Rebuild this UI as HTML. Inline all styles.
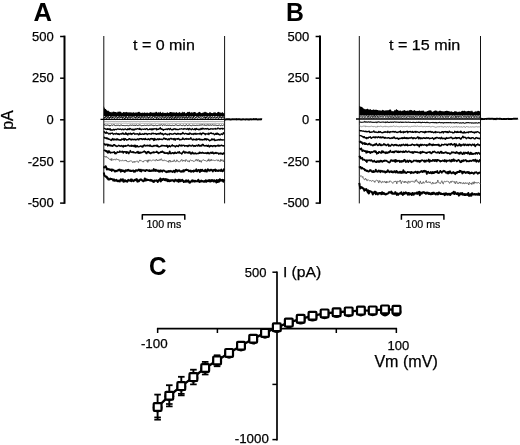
<!DOCTYPE html>
<html><head><meta charset="utf-8"><title>Figure</title>
<style>html,body{margin:0;padding:0;background:#fff}svg{display:block;will-change:transform}</style>
</head><body>
<svg width="520" height="445" viewBox="0 0 520 445" font-family="Liberation Sans, sans-serif" fill="#000">
<rect width="520" height="445" fill="#fff"/>
<text x="33.6" y="20.7" font-size="25.5" text-anchor="start" stroke="#000" stroke-width="0" font-weight="bold" textLength="18.5" lengthAdjust="spacingAndGlyphs" >A</text>
<line x1="64.5" y1="35.6" x2="64.5" y2="203.8" stroke="#000" stroke-width="2.0" stroke-linecap="butt"/>
<line x1="60.1" y1="36.5" x2="64.5" y2="36.5" stroke="#000" stroke-width="1.5" stroke-linecap="butt"/>
<text x="53.7" y="40.7" font-size="13.5" text-anchor="end" stroke="#000" stroke-width="0.25" textLength="21.7" lengthAdjust="spacingAndGlyphs" >500</text>
<line x1="60.1" y1="78.2" x2="64.5" y2="78.2" stroke="#000" stroke-width="1.5" stroke-linecap="butt"/>
<text x="53.7" y="82.4" font-size="13.5" text-anchor="end" stroke="#000" stroke-width="0.25" textLength="21.7" lengthAdjust="spacingAndGlyphs" >250</text>
<line x1="60.1" y1="119.8" x2="64.5" y2="119.8" stroke="#000" stroke-width="1.5" stroke-linecap="butt"/>
<text x="53.7" y="124.0" font-size="13.5" text-anchor="end" stroke="#000" stroke-width="0.25" textLength="7.2" lengthAdjust="spacingAndGlyphs" >0</text>
<line x1="60.1" y1="161.5" x2="64.5" y2="161.5" stroke="#000" stroke-width="1.5" stroke-linecap="butt"/>
<text x="53.7" y="165.7" font-size="13.5" text-anchor="end" stroke="#000" stroke-width="0.25" textLength="26.0" lengthAdjust="spacingAndGlyphs" >-250</text>
<line x1="60.1" y1="203.1" x2="64.5" y2="203.1" stroke="#000" stroke-width="1.5" stroke-linecap="butt"/>
<text x="53.7" y="207.3" font-size="13.5" text-anchor="end" stroke="#000" stroke-width="0.25" textLength="26.0" lengthAdjust="spacingAndGlyphs" >-500</text>
<line x1="103.8" y1="36" x2="103.8" y2="203.4" stroke="#111" stroke-width="1.0" stroke-linecap="butt"/>
<line x1="224.6" y1="36" x2="224.6" y2="203.4" stroke="#111" stroke-width="1.0" stroke-linecap="butt"/>
<path d="M103.8 106.07 L104.3 107.38 L104.8 108.57 L105.3 108.89 L105.8 108.98 L106.3 109.65 L106.8 110.32 L107.3 110.99 L107.8 110.62 L108.3 110.49 L108.8 111.19 L109.3 111.52 L109.8 112.10 L110.3 112.24 L110.8 111.96 L111.3 111.78 L111.8 112.72 L112.3 112.20 L112.8 111.79 L113.3 111.47 L113.8 111.75 L114.3 111.92 L114.8 111.84 L115.3 111.91 L115.8 112.06 L116.3 112.29 L116.8 112.56 L117.3 112.38 L117.8 111.60 L118.3 112.08 L118.8 111.58 L119.3 111.77 L119.8 111.41 L120.3 111.75 L120.8 111.65 L121.3 111.95 L121.8 113.18 L122.3 112.63 L122.8 112.66 L123.3 111.93 L123.8 111.92 L124.3 112.25 L124.8 112.16 L125.3 112.27 L125.8 112.24 L126.3 111.83 L126.8 112.18 L127.3 111.88 L127.8 112.66 L128.3 112.23 L128.8 112.43 L129.3 112.29 L129.8 112.55 L130.3 112.14 L130.8 112.50 L131.3 112.29 L131.8 112.67 L132.3 112.64 L132.8 112.45 L133.3 112.04 L133.8 112.38 L134.3 112.44 L134.8 112.89 L135.3 112.40 L135.8 112.49 L136.3 112.52 L136.8 112.46 L137.3 112.40 L137.8 112.36 L138.3 112.07 L138.8 111.78 L139.3 111.86 L139.8 112.24 L140.3 112.76 L140.8 112.83 L141.3 112.89 L141.8 112.83 L142.3 112.77 L142.8 112.56 L143.3 112.67 L143.8 113.07 L144.3 112.54 L144.8 112.15 L145.3 112.88 L145.8 112.65 L146.3 112.79 L146.8 112.83 L147.3 112.14 L147.8 113.05 L148.3 113.28 L148.8 112.83 L149.3 112.81 L149.8 112.59 L150.3 112.12 L150.8 112.16 L151.3 112.35 L151.8 112.71 L152.3 112.74 L152.8 112.54 L153.3 112.89 L153.8 112.32 L154.3 112.59 L154.8 112.83 L155.3 112.46 L155.8 111.76 L156.3 111.72 L156.8 112.10 L157.3 112.39 L157.8 112.89 L158.3 112.26 L158.8 112.29 L159.3 112.53 L159.8 112.38 L160.3 111.52 L160.8 112.21 L161.3 113.08 L161.8 113.06 L162.3 112.38 L162.8 112.22 L163.3 112.36 L163.8 113.23 L164.3 113.01 L164.8 112.72 L165.3 113.09 L165.8 112.70 L166.3 113.18 L166.8 112.54 L167.3 112.29 L167.8 112.58 L168.3 112.98 L168.8 112.91 L169.3 112.75 L169.8 111.93 L170.3 111.91 L170.8 111.94 L171.3 111.98 L171.8 112.39 L172.3 112.28 L172.8 112.62 L173.3 112.54 L173.8 112.36 L174.3 112.43 L174.8 112.57 L175.3 112.79 L175.8 112.44 L176.3 112.35 L176.8 111.91 L177.3 112.73 L177.8 113.09 L178.3 112.70 L178.8 112.40 L179.3 111.99 L179.8 112.28 L180.3 112.43 L180.8 113.20 L181.3 112.91 L181.8 112.41 L182.3 111.58 L182.8 112.51 L183.3 112.55 L183.8 111.95 L184.3 112.27 L184.8 111.81 L185.3 113.36 L185.8 113.31 L186.3 113.10 L186.8 112.73 L187.3 111.86 L187.8 112.13 L188.3 111.77 L188.8 112.34 L189.3 111.67 L189.8 111.77 L190.3 112.56 L190.8 113.11 L191.3 112.40 L191.8 111.92 L192.3 112.52 L192.8 112.82 L193.3 112.33 L193.8 112.18 L194.3 112.11 L194.8 111.90 L195.3 111.98 L195.8 112.70 L196.3 112.86 L196.8 113.42 L197.3 112.95 L197.8 112.70 L198.3 112.28 L198.8 112.37 L199.3 112.01 L199.8 111.66 L200.3 112.36 L200.8 112.96 L201.3 113.06 L201.8 113.28 L202.3 113.02 L202.8 112.54 L203.3 112.59 L203.8 112.46 L204.3 112.13 L204.8 111.77 L205.3 111.66 L205.8 112.13 L206.3 112.41 L206.8 112.34 L207.3 112.97 L207.8 112.85 L208.3 112.93 L208.8 113.20 L209.3 112.62 L209.8 111.93 L210.3 112.54 L210.8 112.34 L211.3 112.94 L211.8 112.90 L212.3 113.12 L212.8 113.14 L213.3 112.16 L213.8 112.65 L214.3 112.41 L214.8 112.26 L215.3 112.30 L215.8 112.75 L216.3 113.01 L216.8 113.19 L217.3 112.34 L217.8 112.30 L218.3 111.65 L218.8 112.12 L219.3 112.61 L219.8 112.37 L220.3 112.61 L220.8 112.73 L221.3 113.06 L221.8 112.58 L222.3 112.35 L222.8 112.25 L223.3 113.09 L223.8 113.27 L224.3 112.94 L224.6 116.0 L103.8 116.0 Z" fill="#000"/>
<path d="M103.8 117.36 L104.4 117.58 L105.0 117.40 L105.6 116.14 L106.2 116.08 L106.8 117.19 L107.4 117.22 L108.0 116.15 L108.6 116.32 L109.2 117.32 L109.8 118.03 L110.4 116.63 L111.0 115.97 L111.6 116.87 L112.2 117.90 L112.8 117.03 L113.4 115.55 L114.0 116.50 L114.6 116.97 L115.2 116.70 L115.8 116.71 L116.4 115.94 L117.0 117.16 L117.6 117.77 L118.2 116.55 L118.8 116.00 L119.4 116.16 L120.0 117.54 L120.6 117.01 L121.2 116.25 L121.8 116.05 L122.4 117.74 L123.0 116.74 L123.6 116.15 L124.2 116.09 L124.8 116.70 L125.4 117.60 L126.0 115.82 L126.6 116.62 L127.2 117.10 L127.8 117.41 L128.4 116.71 L129.0 115.55 L129.6 116.48 L130.2 117.59 L130.8 117.03 L131.4 115.58 L132.0 115.79 L132.6 117.27 L133.2 116.63 L133.8 116.05 L134.4 116.07 L135.0 116.84 L135.6 117.96 L136.2 117.09 L136.8 115.56 L137.4 116.29 L138.0 117.08 L138.6 117.97 L139.2 115.65 L139.8 116.49 L140.4 116.98 L141.0 117.48 L141.6 116.24 L142.2 116.52 L142.8 116.33 L143.4 117.36 L144.0 117.00 L144.6 115.61 L145.2 116.50 L145.8 117.36 L146.4 116.82 L147.0 116.82 L147.6 116.19 L148.2 117.60 L148.8 117.64 L149.4 116.67 L150.0 116.22 L150.6 116.73 L151.2 117.26 L151.8 117.13 L152.4 116.33 L153.0 116.24 L153.6 116.67 L154.2 116.90 L154.8 115.45 L155.4 115.25 L156.0 117.08 L156.6 117.61 L157.2 116.65 L157.8 115.68 L158.4 116.64 L159.0 117.38 L159.6 116.41 L160.2 115.36 L160.8 116.25 L161.4 117.04 L162.0 117.10 L162.6 115.73 L163.2 116.52 L163.8 117.23 L164.4 117.27 L165.0 117.06 L165.6 115.24 L166.2 116.25 L166.8 117.38 L167.4 117.02 L168.0 116.40 L168.6 115.88 L169.2 117.30 L169.8 118.08 L170.4 116.37 L171.0 115.74 L171.6 117.00 L172.2 117.54 L172.8 116.12 L173.4 115.44 L174.0 116.72 L174.6 117.83 L175.2 117.06 L175.8 115.28 L176.4 116.78 L177.0 117.55 L177.6 117.08 L178.2 116.04 L178.8 116.11 L179.4 116.47 L180.0 117.66 L180.6 116.84 L181.2 115.73 L181.8 116.60 L182.4 117.64 L183.0 116.32 L183.6 115.48 L184.2 116.75 L184.8 117.74 L185.4 117.42 L186.0 116.24 L186.6 116.15 L187.2 117.55 L187.8 117.27 L188.4 116.82 L189.0 115.84 L189.6 116.58 L190.2 117.42 L190.8 116.72 L191.4 115.75 L192.0 116.33 L192.6 117.44 L193.2 117.60 L193.8 115.91 L194.4 116.20 L195.0 116.68 L195.6 117.62 L196.2 116.65 L196.8 116.15 L197.4 116.36 L198.0 117.09 L198.6 116.24 L199.2 115.88 L199.8 115.83 L200.4 116.88 L201.0 117.27 L201.6 116.76 L202.2 116.35 L202.8 116.36 L203.4 117.29 L204.0 116.80 L204.6 116.16 L205.2 116.58 L205.8 118.15 L206.4 116.88 L207.0 116.17 L207.6 116.53 L208.2 117.27 L208.8 116.95 L209.4 116.73 L210.0 116.44 L210.6 116.51 L211.2 117.69 L211.8 116.77 L212.4 116.20 L213.0 116.66 L213.6 117.38 L214.2 117.05 L214.8 116.49 L215.4 117.09 L216.0 116.84 L216.6 117.51 L217.2 116.48 L217.8 116.10 L218.4 116.64 L219.0 117.32 L219.6 116.33 L220.2 116.10 L220.8 116.76 L221.4 117.86 L222.0 116.99 L222.6 115.57 L223.2 116.30 L223.8 117.44 L224.4 117.38" fill="none" stroke="#000" stroke-width="1.0" stroke-linejoin="round"/>
<path d="M103.8 118.77 L104.4 117.67 L105.0 117.69 L105.6 117.30 L106.2 118.70 L106.8 118.74 L107.4 117.41 L108.0 117.41 L108.6 117.66 L109.2 118.74 L109.8 117.85 L110.4 117.36 L111.0 117.50 L111.6 118.30 L112.2 118.21 L112.8 117.09 L113.4 117.48 L114.0 118.36 L114.6 118.47 L115.2 117.58 L115.8 117.36 L116.4 117.95 L117.0 118.43 L117.6 118.14 L118.2 117.76 L118.8 117.23 L119.4 118.18 L120.0 117.85 L120.6 117.39 L121.2 117.16 L121.8 117.83 L122.4 118.30 L123.0 118.34 L123.6 117.25 L124.2 117.77 L124.8 119.07 L125.4 118.12 L126.0 116.91 L126.6 117.64 L127.2 118.08 L127.8 118.81 L128.4 117.25 L129.0 117.20 L129.6 117.65 L130.2 118.52 L130.8 117.58 L131.4 117.28 L132.0 117.70 L132.6 118.31 L133.2 118.39 L133.8 117.64 L134.4 117.55 L135.0 118.09 L135.6 118.08 L136.2 117.66 L136.8 118.00 L137.4 117.96 L138.0 118.28 L138.6 117.67 L139.2 117.00 L139.8 117.54 L140.4 118.42 L141.0 118.53 L141.6 117.38 L142.2 117.40 L142.8 117.89 L143.4 118.43 L144.0 117.58 L144.6 117.02 L145.2 117.79 L145.8 118.48 L146.4 118.13 L147.0 117.47 L147.6 117.85 L148.2 118.39 L148.8 118.23 L149.4 117.38 L150.0 118.12 L150.6 118.02 L151.2 118.27 L151.8 117.93 L152.4 117.28 L153.0 118.47 L153.6 118.48 L154.2 117.90 L154.8 117.20 L155.4 117.43 L156.0 118.21 L156.6 118.74 L157.2 117.56 L157.8 117.70 L158.4 118.59 L159.0 118.52 L159.6 117.86 L160.2 117.28 L160.8 118.02 L161.4 118.75 L162.0 117.76 L162.6 116.94 L163.2 117.74 L163.8 118.33 L164.4 118.31 L165.0 117.19 L165.6 117.25 L166.2 118.24 L166.8 118.79 L167.4 117.57 L168.0 117.40 L168.6 118.09 L169.2 118.57 L169.8 118.11 L170.4 117.68 L171.0 117.35 L171.6 118.84 L172.2 118.14 L172.8 117.30 L173.4 118.18 L174.0 118.28 L174.6 118.89 L175.2 117.84 L175.8 117.08 L176.4 118.22 L177.0 118.69 L177.6 117.82 L178.2 116.67 L178.8 117.71 L179.4 118.42 L180.0 117.84 L180.6 117.88 L181.2 117.47 L181.8 118.22 L182.4 118.29 L183.0 117.37 L183.6 117.15 L184.2 118.11 L184.8 118.57 L185.4 117.72 L186.0 117.28 L186.6 117.42 L187.2 118.62 L187.8 117.94 L188.4 117.44 L189.0 117.29 L189.6 118.19 L190.2 118.43 L190.8 117.26 L191.4 118.02 L192.0 118.08 L192.6 118.47 L193.2 117.66 L193.8 117.73 L194.4 118.17 L195.0 118.56 L195.6 117.77 L196.2 117.25 L196.8 117.70 L197.4 118.19 L198.0 118.05 L198.6 117.26 L199.2 117.15 L199.8 118.09 L200.4 118.31 L201.0 117.86 L201.6 118.05 L202.2 118.28 L202.8 118.19 L203.4 118.23 L204.0 117.41 L204.6 117.50 L205.2 118.61 L205.8 118.28 L206.4 117.50 L207.0 117.25 L207.6 118.06 L208.2 118.84 L208.8 118.07 L209.4 116.94 L210.0 117.68 L210.6 118.26 L211.2 118.36 L211.8 117.44 L212.4 117.78 L213.0 118.31 L213.6 117.85 L214.2 117.71 L214.8 117.42 L215.4 118.22 L216.0 118.14 L216.6 117.88 L217.2 117.12 L217.8 117.61 L218.4 118.57 L219.0 118.23 L219.6 117.14 L220.2 117.07 L220.8 117.66 L221.4 118.21 L222.0 117.89 L222.6 117.34 L223.2 117.48 L223.8 118.26 L224.4 117.97" fill="none" stroke="#000" stroke-width="0.9" stroke-linejoin="round"/>
<line x1="100.5" y1="119.4" x2="224.6" y2="119.4" stroke="#000" stroke-width="1.4" stroke-linecap="butt"/>
<path d="M224.6 119.50 L225.1 119.55 L225.6 119.48 L226.1 119.42 L226.6 119.24 L227.1 119.21 L227.6 119.21 L228.1 119.16 L228.6 119.23 L229.1 119.21 L229.6 119.29 L230.1 119.47 L230.6 119.48 L231.1 119.45 L231.6 119.35 L232.1 119.15 L232.6 119.20 L233.1 119.31 L233.6 119.19 L234.1 119.39 L234.6 119.31 L235.1 119.35 L235.6 119.29 L236.1 119.14 L236.6 119.46 L237.1 119.25 L237.6 119.38 L238.1 119.28 L238.6 119.32 L239.1 119.22 L239.6 119.20 L240.1 119.36 L240.6 119.56 L241.1 119.34 L241.6 119.33 L242.1 119.43 L242.6 119.29 L243.1 119.38 L243.6 119.25 L244.1 119.35 L244.6 119.38 L245.1 119.49 L245.6 119.45 L246.1 119.24 L246.6 119.35 L247.1 119.19 L247.6 119.33 L248.1 119.50 L248.6 119.48 L249.1 119.33 L249.6 119.46 L250.1 119.41 L250.6 119.21 L251.1 119.21 L251.6 119.42 L252.1 119.33 L252.6 119.33 L253.1 119.28 L253.6 119.08 L254.1 119.12 L254.6 119.24 L255.1 119.29 L255.6 119.28 L256.1 119.03 L256.6 119.30 L257.1 119.39 L257.6 119.47 L258.1 119.55 L258.6 119.38 L259.1 119.27 L259.6 119.32 L260.1 119.51 L260.6 119.22 L261.1 119.23 L261.6 119.17 L262.1 119.30" fill="none" stroke="#000" stroke-width="1.9"/>
<path d="M103.8 121.57 L104.3 121.50 L104.8 121.44 L105.3 121.49 L105.8 121.48 L106.3 121.42 L106.8 121.53 L107.3 121.48 L107.8 121.53 L108.3 121.44 L108.8 121.54 L109.3 121.44 L109.8 121.54 L110.3 121.42 L110.8 121.55 L111.3 121.49 L111.8 121.42 L112.3 121.47 L112.8 121.51 L113.3 121.45 L113.8 121.47 L114.3 121.51 L114.8 121.49 L115.3 121.35 L115.8 121.45 L116.3 121.51 L116.8 121.52 L117.3 121.55 L117.8 121.48 L118.3 121.62 L118.8 121.56 L119.3 121.53 L119.8 121.56 L120.3 121.56 L120.8 121.52 L121.3 121.47 L121.8 121.55 L122.3 121.53 L122.8 121.41 L123.3 121.43 L123.8 121.51 L124.3 121.51 L124.8 121.52 L125.3 121.54 L125.8 121.51 L126.3 121.58 L126.8 121.49 L127.3 121.48 L127.8 121.51 L128.3 121.54 L128.8 121.55 L129.3 121.58 L129.8 121.49 L130.3 121.56 L130.8 121.53 L131.3 121.45 L131.8 121.48 L132.3 121.60 L132.8 121.56 L133.3 121.49 L133.8 121.38 L134.3 121.44 L134.8 121.45 L135.3 121.49 L135.8 121.61 L136.3 121.56 L136.8 121.53 L137.3 121.46 L137.8 121.43 L138.3 121.48 L138.8 121.47 L139.3 121.64 L139.8 121.51 L140.3 121.47 L140.8 121.55 L141.3 121.51 L141.8 121.44 L142.3 121.55 L142.8 121.49 L143.3 121.43 L143.8 121.50 L144.3 121.52 L144.8 121.49 L145.3 121.53 L145.8 121.55 L146.3 121.47 L146.8 121.39 L147.3 121.36 L147.8 121.47 L148.3 121.55 L148.8 121.56 L149.3 121.58 L149.8 121.61 L150.3 121.52 L150.8 121.56 L151.3 121.44 L151.8 121.52 L152.3 121.52 L152.8 121.50 L153.3 121.48 L153.8 121.44 L154.3 121.49 L154.8 121.56 L155.3 121.49 L155.8 121.53 L156.3 121.47 L156.8 121.51 L157.3 121.45 L157.8 121.51 L158.3 121.49 L158.8 121.51 L159.3 121.47 L159.8 121.44 L160.3 121.47 L160.8 121.55 L161.3 121.59 L161.8 121.50 L162.3 121.54 L162.8 121.55 L163.3 121.53 L163.8 121.43 L164.3 121.50 L164.8 121.45 L165.3 121.55 L165.8 121.55 L166.3 121.54 L166.8 121.38 L167.3 121.51 L167.8 121.54 L168.3 121.44 L168.8 121.54 L169.3 121.51 L169.8 121.49 L170.3 121.46 L170.8 121.44 L171.3 121.47 L171.8 121.65 L172.3 121.54 L172.8 121.52 L173.3 121.47 L173.8 121.46 L174.3 121.47 L174.8 121.45 L175.3 121.53 L175.8 121.49 L176.3 121.54 L176.8 121.45 L177.3 121.54 L177.8 121.51 L178.3 121.53 L178.8 121.50 L179.3 121.46 L179.8 121.55 L180.3 121.49 L180.8 121.49 L181.3 121.45 L181.8 121.50 L182.3 121.48 L182.8 121.51 L183.3 121.52 L183.8 121.47 L184.3 121.42 L184.8 121.51 L185.3 121.55 L185.8 121.54 L186.3 121.45 L186.8 121.52 L187.3 121.52 L187.8 121.52 L188.3 121.53 L188.8 121.49 L189.3 121.51 L189.8 121.55 L190.3 121.48 L190.8 121.42 L191.3 121.48 L191.8 121.51 L192.3 121.41 L192.8 121.45 L193.3 121.52 L193.8 121.50 L194.3 121.50 L194.8 121.44 L195.3 121.53 L195.8 121.59 L196.3 121.51 L196.8 121.47 L197.3 121.44 L197.8 121.53 L198.3 121.51 L198.8 121.46 L199.3 121.55 L199.8 121.55 L200.3 121.54 L200.8 121.42 L201.3 121.48 L201.8 121.53 L202.3 121.44 L202.8 121.54 L203.3 121.58 L203.8 121.57 L204.3 121.48 L204.8 121.46 L205.3 121.54 L205.8 121.56 L206.3 121.57 L206.8 121.57 L207.3 121.51 L207.8 121.48 L208.3 121.40 L208.8 121.52 L209.3 121.62 L209.8 121.50 L210.3 121.48 L210.8 121.53 L211.3 121.52 L211.8 121.44 L212.3 121.45 L212.8 121.44 L213.3 121.59 L213.8 121.48 L214.3 121.54 L214.8 121.60 L215.3 121.62 L215.8 121.59 L216.3 121.60 L216.8 121.46 L217.3 121.47 L217.8 121.46 L218.3 121.48 L218.8 121.63 L219.3 121.44 L219.8 121.52 L220.3 121.44 L220.8 121.56 L221.3 121.58 L221.8 121.49 L222.3 121.60 L222.8 121.52 L223.3 121.57 L223.8 121.53 L224.3 121.48" fill="none" stroke="#555" stroke-width="0.55" stroke-linejoin="round"/>
<path d="M103.8 123.28 L104.3 123.29 L104.8 123.34 L105.3 123.32 L105.8 123.45 L106.3 123.32 L106.8 123.28 L107.3 123.25 L107.8 123.25 L108.3 123.21 L108.8 123.23 L109.3 123.34 L109.8 123.32 L110.3 123.30 L110.8 123.33 L111.3 123.37 L111.8 123.36 L112.3 123.36 L112.8 123.29 L113.3 123.29 L113.8 123.26 L114.3 123.29 L114.8 123.26 L115.3 123.28 L115.8 123.29 L116.3 123.29 L116.8 123.29 L117.3 123.28 L117.8 123.38 L118.3 123.31 L118.8 123.25 L119.3 123.31 L119.8 123.25 L120.3 123.24 L120.8 123.30 L121.3 123.21 L121.8 123.10 L122.3 123.29 L122.8 123.37 L123.3 123.23 L123.8 123.24 L124.3 123.34 L124.8 123.20 L125.3 123.24 L125.8 123.23 L126.3 123.29 L126.8 123.19 L127.3 123.35 L127.8 123.32 L128.3 123.34 L128.8 123.30 L129.3 123.19 L129.8 123.29 L130.3 123.23 L130.8 123.31 L131.3 123.27 L131.8 123.29 L132.3 123.30 L132.8 123.37 L133.3 123.38 L133.8 123.28 L134.3 123.31 L134.8 123.41 L135.3 123.37 L135.8 123.29 L136.3 123.31 L136.8 123.30 L137.3 123.38 L137.8 123.34 L138.3 123.35 L138.8 123.47 L139.3 123.27 L139.8 123.26 L140.3 123.21 L140.8 123.21 L141.3 123.36 L141.8 123.35 L142.3 123.43 L142.8 123.23 L143.3 123.26 L143.8 123.41 L144.3 123.41 L144.8 123.40 L145.3 123.40 L145.8 123.35 L146.3 123.34 L146.8 123.34 L147.3 123.39 L147.8 123.34 L148.3 123.36 L148.8 123.43 L149.3 123.29 L149.8 123.28 L150.3 123.36 L150.8 123.33 L151.3 123.33 L151.8 123.46 L152.3 123.39 L152.8 123.33 L153.3 123.40 L153.8 123.51 L154.3 123.31 L154.8 123.30 L155.3 123.34 L155.8 123.30 L156.3 123.47 L156.8 123.40 L157.3 123.33 L157.8 123.37 L158.3 123.30 L158.8 123.30 L159.3 123.34 L159.8 123.49 L160.3 123.24 L160.8 123.35 L161.3 123.43 L161.8 123.41 L162.3 123.48 L162.8 123.40 L163.3 123.37 L163.8 123.35 L164.3 123.30 L164.8 123.44 L165.3 123.30 L165.8 123.33 L166.3 123.32 L166.8 123.30 L167.3 123.21 L167.8 123.30 L168.3 123.35 L168.8 123.36 L169.3 123.41 L169.8 123.36 L170.3 123.32 L170.8 123.37 L171.3 123.40 L171.8 123.31 L172.3 123.26 L172.8 123.28 L173.3 123.40 L173.8 123.43 L174.3 123.32 L174.8 123.36 L175.3 123.41 L175.8 123.45 L176.3 123.34 L176.8 123.34 L177.3 123.44 L177.8 123.52 L178.3 123.49 L178.8 123.32 L179.3 123.38 L179.8 123.35 L180.3 123.36 L180.8 123.32 L181.3 123.33 L181.8 123.36 L182.3 123.47 L182.8 123.43 L183.3 123.40 L183.8 123.38 L184.3 123.32 L184.8 123.34 L185.3 123.44 L185.8 123.43 L186.3 123.50 L186.8 123.41 L187.3 123.38 L187.8 123.27 L188.3 123.37 L188.8 123.27 L189.3 123.44 L189.8 123.35 L190.3 123.37 L190.8 123.29 L191.3 123.33 L191.8 123.31 L192.3 123.43 L192.8 123.40 L193.3 123.31 L193.8 123.25 L194.3 123.35 L194.8 123.34 L195.3 123.30 L195.8 123.40 L196.3 123.37 L196.8 123.38 L197.3 123.34 L197.8 123.34 L198.3 123.34 L198.8 123.28 L199.3 123.40 L199.8 123.41 L200.3 123.28 L200.8 123.37 L201.3 123.45 L201.8 123.41 L202.3 123.46 L202.8 123.38 L203.3 123.38 L203.8 123.30 L204.3 123.31 L204.8 123.26 L205.3 123.31 L205.8 123.38 L206.3 123.42 L206.8 123.46 L207.3 123.41 L207.8 123.33 L208.3 123.40 L208.8 123.38 L209.3 123.49 L209.8 123.53 L210.3 123.47 L210.8 123.34 L211.3 123.35 L211.8 123.39 L212.3 123.35 L212.8 123.41 L213.3 123.44 L213.8 123.45 L214.3 123.42 L214.8 123.34 L215.3 123.33 L215.8 123.37 L216.3 123.47 L216.8 123.50 L217.3 123.47 L217.8 123.43 L218.3 123.44 L218.8 123.45 L219.3 123.48 L219.8 123.47 L220.3 123.32 L220.8 123.44 L221.3 123.43 L221.8 123.38 L222.3 123.43 L222.8 123.42 L223.3 123.40 L223.8 123.30 L224.3 123.39" fill="none" stroke="#666" stroke-width="0.55" stroke-linejoin="round"/>
<path d="M103.8 125.05 L104.3 124.97 L104.8 124.56 L105.3 125.13 L105.8 125.36 L106.3 125.25 L106.8 125.31 L107.3 125.12 L107.8 125.01 L108.3 125.31 L108.8 125.16 L109.3 125.26 L109.8 126.17 L110.3 125.66 L110.8 125.40 L111.3 124.85 L111.8 125.23 L112.3 125.50 L112.8 125.10 L113.3 125.14 L113.8 124.61 L114.3 125.29 L114.8 125.10 L115.3 125.40 L115.8 125.65 L116.3 125.26 L116.8 125.57 L117.3 125.39 L117.8 125.26 L118.3 125.22 L118.8 125.06 L119.3 125.63 L119.8 125.62 L120.3 125.13 L120.8 125.55 L121.3 125.19 L121.8 124.90 L122.3 125.60 L122.8 125.03 L123.3 125.60 L123.8 125.43 L124.3 125.60 L124.8 125.54 L125.3 125.67 L125.8 125.47 L126.3 125.52 L126.8 125.41 L127.3 125.61 L127.8 125.25 L128.3 125.57 L128.8 125.77 L129.3 125.34 L129.8 125.41 L130.3 125.15 L130.8 125.17 L131.3 125.33 L131.8 125.21 L132.3 125.02 L132.8 125.22 L133.3 125.32 L133.8 125.38 L134.3 125.51 L134.8 124.82 L135.3 125.58 L135.8 125.28 L136.3 125.04 L136.8 125.11 L137.3 125.38 L137.8 125.54 L138.3 125.24 L138.8 125.33 L139.3 124.86 L139.8 125.27 L140.3 125.26 L140.8 125.18 L141.3 125.54 L141.8 125.80 L142.3 125.66 L142.8 125.13 L143.3 125.71 L143.8 125.28 L144.3 125.28 L144.8 125.14 L145.3 125.38 L145.8 125.48 L146.3 125.39 L146.8 125.26 L147.3 125.23 L147.8 125.15 L148.3 125.56 L148.8 125.26 L149.3 125.25 L149.8 125.20 L150.3 125.06 L150.8 125.18 L151.3 124.84 L151.8 125.31 L152.3 125.45 L152.8 125.24 L153.3 125.72 L153.8 125.13 L154.3 125.43 L154.8 125.45 L155.3 125.20 L155.8 125.24 L156.3 125.56 L156.8 125.39 L157.3 125.42 L157.8 125.70 L158.3 125.43 L158.8 124.86 L159.3 124.97 L159.8 125.41 L160.3 125.25 L160.8 124.97 L161.3 124.63 L161.8 125.22 L162.3 125.66 L162.8 125.01 L163.3 124.61 L163.8 125.27 L164.3 125.10 L164.8 125.14 L165.3 125.14 L165.8 124.97 L166.3 125.30 L166.8 125.49 L167.3 125.39 L167.8 125.09 L168.3 125.45 L168.8 125.19 L169.3 125.36 L169.8 124.96 L170.3 125.34 L170.8 125.45 L171.3 125.61 L171.8 125.31 L172.3 125.38 L172.8 125.10 L173.3 125.44 L173.8 125.48 L174.3 125.55 L174.8 125.16 L175.3 124.84 L175.8 125.11 L176.3 125.13 L176.8 124.97 L177.3 125.34 L177.8 125.53 L178.3 125.41 L178.8 125.57 L179.3 125.41 L179.8 124.95 L180.3 124.97 L180.8 125.05 L181.3 125.40 L181.8 125.51 L182.3 125.35 L182.8 125.60 L183.3 125.16 L183.8 125.22 L184.3 125.70 L184.8 125.51 L185.3 125.65 L185.8 124.86 L186.3 124.75 L186.8 124.95 L187.3 125.53 L187.8 125.83 L188.3 125.26 L188.8 125.05 L189.3 125.01 L189.8 125.04 L190.3 125.44 L190.8 125.27 L191.3 125.82 L191.8 125.61 L192.3 125.16 L192.8 125.30 L193.3 125.20 L193.8 125.46 L194.3 125.52 L194.8 125.16 L195.3 125.44 L195.8 125.43 L196.3 125.27 L196.8 125.32 L197.3 125.43 L197.8 125.17 L198.3 125.00 L198.8 125.50 L199.3 125.26 L199.8 125.02 L200.3 125.26 L200.8 124.77 L201.3 125.10 L201.8 124.76 L202.3 124.94 L202.8 124.58 L203.3 124.80 L203.8 125.30 L204.3 125.10 L204.8 124.72 L205.3 125.48 L205.8 124.98 L206.3 125.45 L206.8 124.99 L207.3 124.59 L207.8 125.40 L208.3 124.97 L208.8 125.26 L209.3 125.47 L209.8 124.80 L210.3 125.06 L210.8 124.95 L211.3 125.22 L211.8 125.15 L212.3 124.77 L212.8 125.07 L213.3 125.30 L213.8 125.07 L214.3 125.26 L214.8 125.02 L215.3 125.08 L215.8 125.21 L216.3 125.22 L216.8 125.50 L217.3 125.48 L217.8 125.45 L218.3 125.40 L218.8 125.24 L219.3 124.87 L219.8 125.43 L220.3 125.73 L220.8 125.38 L221.3 125.15 L221.8 125.17 L222.3 125.55 L222.8 125.39 L223.3 124.97 L223.8 125.08 L224.3 124.93" fill="none" stroke="#111" stroke-width="1.0" stroke-linejoin="round"/>
<path d="M103.8 128.47 L104.3 128.37 L104.8 128.55 L105.3 128.89 L105.8 129.28 L106.3 129.11 L106.8 129.54 L107.3 128.64 L107.8 129.32 L108.3 129.49 L108.8 128.78 L109.3 129.73 L109.8 128.77 L110.3 128.71 L110.8 130.35 L111.3 130.09 L111.8 129.73 L112.3 130.06 L112.8 130.09 L113.3 129.18 L113.8 129.58 L114.3 130.01 L114.8 129.47 L115.3 129.45 L115.8 129.28 L116.3 129.69 L116.8 129.26 L117.3 129.15 L117.8 128.87 L118.3 128.90 L118.8 129.33 L119.3 129.45 L119.8 129.15 L120.3 128.82 L120.8 129.32 L121.3 129.39 L121.8 129.78 L122.3 129.12 L122.8 129.00 L123.3 129.36 L123.8 129.86 L124.3 129.34 L124.8 129.22 L125.3 128.84 L125.8 129.03 L126.3 129.63 L126.8 129.68 L127.3 129.77 L127.8 128.70 L128.3 129.49 L128.8 128.90 L129.3 129.47 L129.8 128.31 L130.3 128.98 L130.8 128.81 L131.3 129.67 L131.8 129.32 L132.3 129.72 L132.8 129.15 L133.3 130.03 L133.8 129.22 L134.3 130.00 L134.8 129.17 L135.3 128.82 L135.8 129.47 L136.3 129.03 L136.8 129.04 L137.3 128.54 L137.8 128.80 L138.3 129.08 L138.8 128.84 L139.3 129.26 L139.8 128.27 L140.3 129.39 L140.8 129.09 L141.3 129.81 L141.8 129.23 L142.3 129.00 L142.8 129.00 L143.3 129.28 L143.8 129.44 L144.3 129.07 L144.8 128.87 L145.3 129.30 L145.8 129.51 L146.3 128.51 L146.8 128.62 L147.3 128.78 L147.8 129.77 L148.3 129.75 L148.8 129.57 L149.3 129.46 L149.8 128.76 L150.3 129.51 L150.8 129.08 L151.3 128.86 L151.8 129.88 L152.3 128.76 L152.8 129.63 L153.3 129.35 L153.8 128.76 L154.3 129.07 L154.8 128.75 L155.3 129.08 L155.8 128.79 L156.3 128.52 L156.8 130.02 L157.3 129.03 L157.8 129.42 L158.3 129.13 L158.8 129.41 L159.3 128.67 L159.8 128.58 L160.3 127.64 L160.8 129.18 L161.3 129.28 L161.8 128.69 L162.3 129.36 L162.8 129.40 L163.3 130.34 L163.8 129.44 L164.3 129.51 L164.8 129.42 L165.3 129.50 L165.8 129.17 L166.3 128.93 L166.8 129.35 L167.3 129.60 L167.8 128.74 L168.3 128.53 L168.8 128.92 L169.3 129.72 L169.8 129.12 L170.3 128.37 L170.8 129.22 L171.3 129.43 L171.8 129.94 L172.3 129.30 L172.8 129.90 L173.3 128.93 L173.8 129.37 L174.3 129.15 L174.8 128.56 L175.3 128.83 L175.8 129.56 L176.3 129.63 L176.8 129.03 L177.3 129.53 L177.8 129.54 L178.3 129.57 L178.8 129.33 L179.3 129.27 L179.8 128.84 L180.3 129.00 L180.8 129.08 L181.3 128.73 L181.8 128.84 L182.3 129.01 L182.8 129.03 L183.3 129.33 L183.8 128.56 L184.3 128.64 L184.8 129.00 L185.3 128.82 L185.8 129.03 L186.3 128.79 L186.8 129.41 L187.3 128.99 L187.8 128.50 L188.3 129.20 L188.8 129.74 L189.3 128.37 L189.8 128.80 L190.3 128.96 L190.8 129.39 L191.3 129.73 L191.8 129.17 L192.3 128.51 L192.8 129.26 L193.3 129.54 L193.8 129.38 L194.3 129.18 L194.8 128.76 L195.3 129.98 L195.8 128.78 L196.3 128.40 L196.8 129.33 L197.3 129.22 L197.8 129.35 L198.3 129.23 L198.8 129.79 L199.3 129.78 L199.8 129.02 L200.3 129.48 L200.8 128.72 L201.3 128.29 L201.8 129.38 L202.3 128.93 L202.8 128.12 L203.3 128.82 L203.8 128.67 L204.3 129.11 L204.8 128.94 L205.3 128.62 L205.8 128.57 L206.3 129.13 L206.8 128.55 L207.3 128.86 L207.8 128.43 L208.3 128.94 L208.8 129.61 L209.3 129.24 L209.8 129.41 L210.3 129.18 L210.8 128.54 L211.3 128.72 L211.8 128.97 L212.3 129.12 L212.8 128.79 L213.3 129.18 L213.8 128.76 L214.3 128.93 L214.8 128.97 L215.3 128.51 L215.8 129.25 L216.3 128.99 L216.8 128.93 L217.3 128.84 L217.8 128.00 L218.3 128.10 L218.8 128.25 L219.3 129.05 L219.8 128.59 L220.3 128.98 L220.8 128.44 L221.3 128.35 L221.8 128.50 L222.3 129.14 L222.8 128.19 L223.3 128.56 L223.8 128.83 L224.3 128.78" fill="none" stroke="#000" stroke-width="1.25" stroke-linejoin="round"/>
<path d="M103.8 132.34 L104.3 131.71 L104.8 132.76 L105.3 132.88 L105.8 133.37 L106.3 131.98 L106.8 133.14 L107.3 132.79 L107.8 132.95 L108.3 133.58 L108.8 134.15 L109.3 133.63 L109.8 133.45 L110.3 134.08 L110.8 133.24 L111.3 133.41 L111.8 133.28 L112.3 133.02 L112.8 133.51 L113.3 134.43 L113.8 133.81 L114.3 133.84 L114.8 133.63 L115.3 134.15 L115.8 133.80 L116.3 133.20 L116.8 133.51 L117.3 134.26 L117.8 133.73 L118.3 134.20 L118.8 133.77 L119.3 134.61 L119.8 134.05 L120.3 134.09 L120.8 133.66 L121.3 134.11 L121.8 133.69 L122.3 133.04 L122.8 133.78 L123.3 133.25 L123.8 134.33 L124.3 134.23 L124.8 133.87 L125.3 134.08 L125.8 132.65 L126.3 134.28 L126.8 133.61 L127.3 134.10 L127.8 135.06 L128.3 133.36 L128.8 133.54 L129.3 133.96 L129.8 134.11 L130.3 133.16 L130.8 133.29 L131.3 134.43 L131.8 133.72 L132.3 134.13 L132.8 133.35 L133.3 133.39 L133.8 132.95 L134.3 133.83 L134.8 134.41 L135.3 134.00 L135.8 133.72 L136.3 133.85 L136.8 134.02 L137.3 133.69 L137.8 133.91 L138.3 134.59 L138.8 134.84 L139.3 133.63 L139.8 133.08 L140.3 134.41 L140.8 134.28 L141.3 134.39 L141.8 134.13 L142.3 133.75 L142.8 134.21 L143.3 134.34 L143.8 134.41 L144.3 133.36 L144.8 134.11 L145.3 133.61 L145.8 133.51 L146.3 133.82 L146.8 133.50 L147.3 134.67 L147.8 134.12 L148.3 133.88 L148.8 133.65 L149.3 133.81 L149.8 133.62 L150.3 133.93 L150.8 134.15 L151.3 134.21 L151.8 133.23 L152.3 133.44 L152.8 133.64 L153.3 133.13 L153.8 133.74 L154.3 133.59 L154.8 133.72 L155.3 133.90 L155.8 133.49 L156.3 134.40 L156.8 134.35 L157.3 133.62 L157.8 133.97 L158.3 134.18 L158.8 133.52 L159.3 133.58 L159.8 134.13 L160.3 132.73 L160.8 132.99 L161.3 133.80 L161.8 134.06 L162.3 133.50 L162.8 134.20 L163.3 134.97 L163.8 134.22 L164.3 134.02 L164.8 133.98 L165.3 133.49 L165.8 134.05 L166.3 134.04 L166.8 134.29 L167.3 134.70 L167.8 134.13 L168.3 134.05 L168.8 134.09 L169.3 134.76 L169.8 133.42 L170.3 133.83 L170.8 133.60 L171.3 133.88 L171.8 134.24 L172.3 134.03 L172.8 134.24 L173.3 134.06 L173.8 133.63 L174.3 133.55 L174.8 133.16 L175.3 133.87 L175.8 133.77 L176.3 134.30 L176.8 134.42 L177.3 133.64 L177.8 133.39 L178.3 134.08 L178.8 133.54 L179.3 133.86 L179.8 134.09 L180.3 133.66 L180.8 134.53 L181.3 133.58 L181.8 133.94 L182.3 133.69 L182.8 132.43 L183.3 133.40 L183.8 133.59 L184.3 134.01 L184.8 133.80 L185.3 133.49 L185.8 133.53 L186.3 133.61 L186.8 134.10 L187.3 133.73 L187.8 134.26 L188.3 134.28 L188.8 133.57 L189.3 134.30 L189.8 132.98 L190.3 133.76 L190.8 133.48 L191.3 133.77 L191.8 134.37 L192.3 134.01 L192.8 133.84 L193.3 134.42 L193.8 133.62 L194.3 133.40 L194.8 134.18 L195.3 134.22 L195.8 133.27 L196.3 133.79 L196.8 134.20 L197.3 133.85 L197.8 133.68 L198.3 133.87 L198.8 133.94 L199.3 133.47 L199.8 134.09 L200.3 133.17 L200.8 133.62 L201.3 134.72 L201.8 133.52 L202.3 133.78 L202.8 132.85 L203.3 133.29 L203.8 133.22 L204.3 133.82 L204.8 133.66 L205.3 134.70 L205.8 133.63 L206.3 133.81 L206.8 133.87 L207.3 134.09 L207.8 134.18 L208.3 133.08 L208.8 134.54 L209.3 133.76 L209.8 133.44 L210.3 132.97 L210.8 133.40 L211.3 132.86 L211.8 133.66 L212.3 133.44 L212.8 133.83 L213.3 133.44 L213.8 133.74 L214.3 134.78 L214.8 134.48 L215.3 134.01 L215.8 133.42 L216.3 134.42 L216.8 133.25 L217.3 133.08 L217.8 134.29 L218.3 133.70 L218.8 134.47 L219.3 134.28 L219.8 134.98 L220.3 134.90 L220.8 134.35 L221.3 133.73 L221.8 134.15 L222.3 134.60 L222.8 134.14 L223.3 132.63 L223.8 133.48 L224.3 133.71" fill="none" stroke="#000" stroke-width="1.35" stroke-linejoin="round"/>
<path d="M103.8 137.27 L104.3 137.28 L104.8 138.12 L105.3 137.96 L105.8 137.92 L106.3 138.57 L106.8 137.82 L107.3 138.95 L107.8 138.29 L108.3 138.55 L108.8 139.28 L109.3 139.08 L109.8 139.22 L110.3 139.86 L110.8 140.12 L111.3 140.44 L111.8 139.16 L112.3 139.71 L112.8 138.54 L113.3 139.55 L113.8 139.97 L114.3 139.09 L114.8 139.47 L115.3 139.80 L115.8 139.37 L116.3 139.03 L116.8 140.05 L117.3 138.86 L117.8 139.37 L118.3 139.81 L118.8 139.52 L119.3 140.07 L119.8 140.16 L120.3 139.71 L120.8 140.32 L121.3 139.86 L121.8 138.86 L122.3 139.18 L122.8 139.52 L123.3 139.47 L123.8 138.49 L124.3 140.37 L124.8 138.86 L125.3 138.74 L125.8 139.45 L126.3 139.44 L126.8 140.20 L127.3 139.67 L127.8 139.59 L128.3 139.68 L128.8 139.00 L129.3 138.61 L129.8 138.93 L130.3 139.75 L130.8 139.26 L131.3 139.93 L131.8 139.13 L132.3 139.62 L132.8 139.33 L133.3 139.74 L133.8 139.41 L134.3 139.48 L134.8 139.23 L135.3 139.94 L135.8 139.45 L136.3 139.66 L136.8 139.76 L137.3 138.98 L137.8 138.88 L138.3 139.23 L138.8 139.94 L139.3 138.90 L139.8 138.72 L140.3 138.70 L140.8 139.04 L141.3 138.76 L141.8 138.81 L142.3 139.63 L142.8 138.94 L143.3 139.34 L143.8 138.82 L144.3 139.19 L144.8 139.57 L145.3 138.39 L145.8 139.25 L146.3 139.43 L146.8 139.31 L147.3 139.47 L147.8 139.55 L148.3 138.73 L148.8 139.16 L149.3 139.59 L149.8 140.01 L150.3 138.73 L150.8 138.89 L151.3 138.43 L151.8 139.06 L152.3 138.71 L152.8 138.69 L153.3 139.58 L153.8 140.48 L154.3 138.51 L154.8 139.98 L155.3 138.93 L155.8 139.50 L156.3 139.37 L156.8 139.83 L157.3 139.20 L157.8 138.81 L158.3 139.13 L158.8 139.65 L159.3 138.85 L159.8 139.29 L160.3 139.17 L160.8 139.24 L161.3 139.19 L161.8 139.48 L162.3 139.64 L162.8 139.12 L163.3 139.01 L163.8 138.09 L164.3 138.56 L164.8 138.31 L165.3 139.38 L165.8 138.65 L166.3 138.68 L166.8 139.31 L167.3 139.69 L167.8 139.86 L168.3 138.80 L168.8 139.20 L169.3 139.67 L169.8 138.74 L170.3 138.85 L170.8 138.34 L171.3 138.45 L171.8 139.18 L172.3 139.09 L172.8 138.81 L173.3 138.64 L173.8 139.72 L174.3 139.56 L174.8 138.52 L175.3 140.10 L175.8 139.06 L176.3 139.00 L176.8 138.85 L177.3 138.79 L177.8 139.35 L178.3 138.39 L178.8 139.03 L179.3 138.97 L179.8 140.00 L180.3 139.57 L180.8 139.44 L181.3 139.47 L181.8 139.45 L182.3 139.29 L182.8 137.92 L183.3 139.11 L183.8 138.95 L184.3 139.45 L184.8 139.37 L185.3 138.93 L185.8 138.66 L186.3 138.56 L186.8 139.20 L187.3 139.11 L187.8 138.74 L188.3 138.96 L188.8 139.31 L189.3 138.85 L189.8 139.01 L190.3 138.83 L190.8 137.74 L191.3 138.96 L191.8 139.18 L192.3 139.62 L192.8 139.99 L193.3 139.01 L193.8 139.51 L194.3 139.46 L194.8 139.41 L195.3 139.73 L195.8 139.88 L196.3 138.85 L196.8 140.03 L197.3 139.48 L197.8 139.10 L198.3 139.01 L198.8 139.26 L199.3 138.84 L199.8 139.92 L200.3 139.85 L200.8 139.16 L201.3 139.89 L201.8 139.72 L202.3 139.57 L202.8 140.05 L203.3 139.56 L203.8 139.39 L204.3 139.75 L204.8 138.61 L205.3 138.68 L205.8 139.53 L206.3 140.07 L206.8 138.79 L207.3 139.44 L207.8 139.30 L208.3 139.48 L208.8 140.00 L209.3 140.52 L209.8 140.73 L210.3 140.42 L210.8 140.25 L211.3 139.90 L211.8 138.87 L212.3 139.80 L212.8 139.21 L213.3 139.16 L213.8 139.83 L214.3 139.06 L214.8 140.58 L215.3 140.34 L215.8 140.14 L216.3 140.18 L216.8 140.05 L217.3 139.86 L217.8 140.13 L218.3 139.52 L218.8 139.84 L219.3 139.79 L219.8 140.08 L220.3 139.19 L220.8 139.71 L221.3 139.63 L221.8 140.01 L222.3 139.99 L222.8 139.79 L223.3 139.86 L223.8 139.85 L224.3 140.33" fill="none" stroke="#000" stroke-width="1.4" stroke-linejoin="round"/>
<path d="M103.8 144.21 L104.3 143.87 L104.8 144.69 L105.3 145.07 L105.8 144.17 L106.3 144.27 L106.8 144.88 L107.3 144.34 L107.8 146.03 L108.3 144.50 L108.8 144.61 L109.3 145.69 L109.8 145.14 L110.3 145.84 L110.8 145.14 L111.3 146.05 L111.8 145.44 L112.3 145.95 L112.8 146.28 L113.3 145.02 L113.8 145.10 L114.3 144.65 L114.8 144.86 L115.3 145.97 L115.8 145.64 L116.3 146.05 L116.8 146.46 L117.3 146.34 L117.8 146.17 L118.3 145.49 L118.8 145.33 L119.3 145.64 L119.8 146.05 L120.3 146.26 L120.8 145.83 L121.3 145.54 L121.8 145.61 L122.3 146.57 L122.8 146.09 L123.3 146.93 L123.8 145.62 L124.3 146.20 L124.8 145.95 L125.3 146.27 L125.8 145.57 L126.3 145.99 L126.8 145.86 L127.3 145.64 L127.8 145.15 L128.3 144.91 L128.8 145.48 L129.3 146.08 L129.8 146.04 L130.3 146.01 L130.8 146.10 L131.3 145.22 L131.8 146.35 L132.3 146.06 L132.8 145.56 L133.3 145.58 L133.8 146.45 L134.3 146.13 L134.8 145.15 L135.3 146.93 L135.8 145.41 L136.3 146.82 L136.8 146.67 L137.3 145.69 L137.8 146.61 L138.3 146.83 L138.8 146.71 L139.3 146.51 L139.8 146.38 L140.3 146.24 L140.8 145.89 L141.3 146.17 L141.8 146.76 L142.3 146.19 L142.8 147.08 L143.3 145.45 L143.8 145.92 L144.3 145.20 L144.8 144.96 L145.3 145.93 L145.8 145.84 L146.3 145.70 L146.8 145.43 L147.3 145.85 L147.8 145.21 L148.3 145.80 L148.8 145.75 L149.3 145.39 L149.8 146.18 L150.3 145.07 L150.8 146.05 L151.3 146.18 L151.8 146.43 L152.3 146.23 L152.8 146.52 L153.3 145.99 L153.8 145.46 L154.3 146.04 L154.8 145.53 L155.3 145.65 L155.8 145.86 L156.3 145.37 L156.8 146.23 L157.3 145.16 L157.8 146.43 L158.3 146.10 L158.8 146.92 L159.3 146.80 L159.8 146.63 L160.3 146.35 L160.8 146.27 L161.3 145.43 L161.8 145.72 L162.3 145.51 L162.8 145.58 L163.3 145.88 L163.8 145.59 L164.3 145.93 L164.8 145.82 L165.3 145.67 L165.8 146.14 L166.3 146.29 L166.8 145.29 L167.3 145.64 L167.8 147.42 L168.3 146.26 L168.8 146.23 L169.3 145.48 L169.8 146.29 L170.3 146.70 L170.8 146.29 L171.3 145.83 L171.8 145.88 L172.3 144.84 L172.8 145.94 L173.3 145.65 L173.8 145.98 L174.3 146.07 L174.8 145.98 L175.3 146.89 L175.8 146.48 L176.3 145.58 L176.8 146.03 L177.3 146.16 L177.8 145.88 L178.3 146.56 L178.8 145.72 L179.3 144.88 L179.8 145.11 L180.3 145.86 L180.8 145.39 L181.3 145.87 L181.8 145.06 L182.3 145.84 L182.8 145.65 L183.3 145.25 L183.8 145.35 L184.3 145.54 L184.8 146.18 L185.3 145.95 L185.8 145.64 L186.3 145.69 L186.8 146.08 L187.3 145.90 L187.8 146.58 L188.3 145.34 L188.8 145.96 L189.3 145.60 L189.8 145.17 L190.3 145.73 L190.8 145.92 L191.3 146.02 L191.8 145.83 L192.3 145.05 L192.8 145.45 L193.3 145.65 L193.8 146.39 L194.3 145.69 L194.8 145.64 L195.3 146.34 L195.8 145.76 L196.3 145.32 L196.8 145.67 L197.3 145.99 L197.8 145.77 L198.3 144.75 L198.8 145.25 L199.3 146.07 L199.8 145.27 L200.3 146.05 L200.8 145.81 L201.3 145.29 L201.8 146.00 L202.3 144.61 L202.8 144.35 L203.3 144.62 L203.8 145.78 L204.3 145.63 L204.8 145.99 L205.3 145.75 L205.8 145.74 L206.3 145.51 L206.8 145.52 L207.3 146.28 L207.8 146.31 L208.3 145.24 L208.8 145.97 L209.3 146.95 L209.8 146.46 L210.3 145.53 L210.8 146.17 L211.3 146.03 L211.8 145.70 L212.3 146.30 L212.8 146.53 L213.3 145.71 L213.8 145.89 L214.3 145.59 L214.8 145.73 L215.3 146.53 L215.8 145.70 L216.3 145.99 L216.8 145.92 L217.3 145.81 L217.8 145.17 L218.3 145.86 L218.8 145.20 L219.3 145.99 L219.8 145.75 L220.3 145.86 L220.8 145.53 L221.3 145.22 L221.8 145.15 L222.3 145.73 L222.8 145.75 L223.3 145.94 L223.8 145.73 L224.3 146.21" fill="none" stroke="#000" stroke-width="1.45" stroke-linejoin="round"/>
<path d="M103.8 150.13 L104.3 150.37 L104.8 150.28 L105.3 151.01 L105.8 150.65 L106.3 151.64 L106.8 150.86 L107.3 152.06 L107.8 153.03 L108.3 150.93 L108.8 152.50 L109.3 151.09 L109.8 151.68 L110.3 152.93 L110.8 152.78 L111.3 152.55 L111.8 152.45 L112.3 152.39 L112.8 152.61 L113.3 152.36 L113.8 152.26 L114.3 151.78 L114.8 153.43 L115.3 152.73 L115.8 153.75 L116.3 153.18 L116.8 152.84 L117.3 151.86 L117.8 152.11 L118.3 152.31 L118.8 152.25 L119.3 152.19 L119.8 151.04 L120.3 151.86 L120.8 152.06 L121.3 151.91 L121.8 151.99 L122.3 151.29 L122.8 151.61 L123.3 152.99 L123.8 151.82 L124.3 151.89 L124.8 151.68 L125.3 152.01 L125.8 151.85 L126.3 153.21 L126.8 151.77 L127.3 152.78 L127.8 151.95 L128.3 152.31 L128.8 153.60 L129.3 152.48 L129.8 152.35 L130.3 150.63 L130.8 151.71 L131.3 152.07 L131.8 152.28 L132.3 152.40 L132.8 151.72 L133.3 151.76 L133.8 152.74 L134.3 152.37 L134.8 152.47 L135.3 152.88 L135.8 152.65 L136.3 152.65 L136.8 151.93 L137.3 152.40 L137.8 151.50 L138.3 153.23 L138.8 152.13 L139.3 153.26 L139.8 152.24 L140.3 152.23 L140.8 152.98 L141.3 152.56 L141.8 152.48 L142.3 152.29 L142.8 152.14 L143.3 151.80 L143.8 151.70 L144.3 151.08 L144.8 151.91 L145.3 151.68 L145.8 152.85 L146.3 153.55 L146.8 153.56 L147.3 151.76 L147.8 151.95 L148.3 152.23 L148.8 151.54 L149.3 153.13 L149.8 153.05 L150.3 152.79 L150.8 153.65 L151.3 153.03 L151.8 152.54 L152.3 152.76 L152.8 152.37 L153.3 152.77 L153.8 151.87 L154.3 152.66 L154.8 152.38 L155.3 152.19 L155.8 152.16 L156.3 152.27 L156.8 151.37 L157.3 152.46 L157.8 152.32 L158.3 153.45 L158.8 152.64 L159.3 152.98 L159.8 152.58 L160.3 152.42 L160.8 151.82 L161.3 152.18 L161.8 152.16 L162.3 151.16 L162.8 152.17 L163.3 152.12 L163.8 152.68 L164.3 153.18 L164.8 152.38 L165.3 153.08 L165.8 153.35 L166.3 153.17 L166.8 152.66 L167.3 152.78 L167.8 153.71 L168.3 153.81 L168.8 153.58 L169.3 151.88 L169.8 151.28 L170.3 153.47 L170.8 153.21 L171.3 153.57 L171.8 153.26 L172.3 152.73 L172.8 152.99 L173.3 152.78 L173.8 153.63 L174.3 153.36 L174.8 152.26 L175.3 152.28 L175.8 153.22 L176.3 153.33 L176.8 152.92 L177.3 152.87 L177.8 152.05 L178.3 152.12 L178.8 152.86 L179.3 151.71 L179.8 152.80 L180.3 153.11 L180.8 153.15 L181.3 153.31 L181.8 153.90 L182.3 153.10 L182.8 152.29 L183.3 151.60 L183.8 151.19 L184.3 152.35 L184.8 153.06 L185.3 151.91 L185.8 152.65 L186.3 152.30 L186.8 152.49 L187.3 152.88 L187.8 152.77 L188.3 152.11 L188.8 153.07 L189.3 152.86 L189.8 151.81 L190.3 153.20 L190.8 153.86 L191.3 152.92 L191.8 153.79 L192.3 152.16 L192.8 152.53 L193.3 153.47 L193.8 153.75 L194.3 153.32 L194.8 153.68 L195.3 152.97 L195.8 153.47 L196.3 153.70 L196.8 153.75 L197.3 153.40 L197.8 153.62 L198.3 153.44 L198.8 153.40 L199.3 152.20 L199.8 153.20 L200.3 152.53 L200.8 152.73 L201.3 153.01 L201.8 153.15 L202.3 152.35 L202.8 152.70 L203.3 153.17 L203.8 152.94 L204.3 153.07 L204.8 153.29 L205.3 153.26 L205.8 152.84 L206.3 153.21 L206.8 153.47 L207.3 152.49 L207.8 153.50 L208.3 152.65 L208.8 153.27 L209.3 153.59 L209.8 153.66 L210.3 152.61 L210.8 152.53 L211.3 152.36 L211.8 153.31 L212.3 153.29 L212.8 152.10 L213.3 153.31 L213.8 153.81 L214.3 153.03 L214.8 153.03 L215.3 153.18 L215.8 152.56 L216.3 152.75 L216.8 153.40 L217.3 153.01 L217.8 153.09 L218.3 153.17 L218.8 154.16 L219.3 153.56 L219.8 153.48 L220.3 153.01 L220.8 153.93 L221.3 153.47 L221.8 153.33 L222.3 154.08 L222.8 154.24 L223.3 152.94 L223.8 153.07 L224.3 154.04" fill="none" stroke="#000" stroke-width="1.5" stroke-linejoin="round"/>
<path d="M103.8 157.30 L104.3 156.74 L104.8 156.07 L105.3 157.22 L105.8 156.91 L106.3 156.21 L106.8 157.53 L107.3 157.34 L107.8 158.01 L108.3 157.88 L108.8 158.91 L109.3 159.27 L109.8 159.20 L110.3 159.79 L110.8 158.82 L111.3 160.74 L111.8 158.46 L112.3 159.78 L112.8 160.32 L113.3 159.49 L113.8 159.83 L114.3 159.09 L114.8 159.53 L115.3 160.19 L115.8 159.26 L116.3 158.67 L116.8 159.70 L117.3 159.56 L117.8 159.45 L118.3 160.02 L118.8 159.44 L119.3 161.05 L119.8 161.37 L120.3 160.77 L120.8 160.29 L121.3 160.60 L121.8 160.63 L122.3 160.18 L122.8 160.32 L123.3 161.13 L123.8 160.61 L124.3 160.56 L124.8 160.63 L125.3 160.27 L125.8 161.03 L126.3 160.11 L126.8 161.49 L127.3 161.69 L127.8 161.14 L128.3 161.68 L128.8 162.00 L129.3 161.06 L129.8 161.16 L130.3 160.85 L130.8 160.90 L131.3 160.91 L131.8 161.25 L132.3 161.55 L132.8 162.75 L133.3 161.78 L133.8 162.01 L134.3 161.24 L134.8 162.50 L135.3 161.70 L135.8 161.38 L136.3 161.18 L136.8 161.41 L137.3 161.13 L137.8 161.45 L138.3 162.57 L138.8 161.58 L139.3 160.85 L139.8 159.88 L140.3 160.93 L140.8 160.47 L141.3 160.61 L141.8 161.25 L142.3 161.57 L142.8 161.64 L143.3 162.15 L143.8 160.85 L144.3 160.78 L144.8 160.61 L145.3 160.45 L145.8 160.50 L146.3 160.43 L146.8 161.39 L147.3 160.34 L147.8 162.38 L148.3 159.76 L148.8 161.19 L149.3 159.89 L149.8 160.36 L150.3 159.95 L150.8 160.66 L151.3 161.14 L151.8 160.56 L152.3 160.26 L152.8 160.03 L153.3 160.03 L153.8 160.03 L154.3 160.13 L154.8 160.60 L155.3 161.17 L155.8 160.20 L156.3 159.08 L156.8 159.95 L157.3 160.94 L157.8 159.91 L158.3 160.68 L158.8 159.82 L159.3 159.52 L159.8 160.56 L160.3 159.37 L160.8 160.14 L161.3 158.67 L161.8 159.57 L162.3 160.82 L162.8 160.48 L163.3 160.32 L163.8 161.09 L164.3 160.27 L164.8 159.94 L165.3 160.41 L165.8 160.73 L166.3 160.95 L166.8 160.72 L167.3 161.55 L167.8 161.31 L168.3 160.90 L168.8 162.40 L169.3 160.12 L169.8 160.94 L170.3 160.36 L170.8 162.15 L171.3 161.28 L171.8 161.46 L172.3 161.16 L172.8 161.91 L173.3 160.72 L173.8 161.45 L174.3 159.75 L174.8 161.03 L175.3 161.71 L175.8 161.69 L176.3 161.57 L176.8 159.79 L177.3 160.72 L177.8 160.67 L178.3 161.92 L178.8 161.49 L179.3 161.46 L179.8 161.94 L180.3 161.51 L180.8 160.17 L181.3 160.21 L181.8 159.36 L182.3 161.43 L182.8 160.94 L183.3 160.00 L183.8 161.02 L184.3 160.56 L184.8 160.56 L185.3 161.63 L185.8 159.59 L186.3 159.61 L186.8 160.54 L187.3 160.61 L187.8 161.60 L188.3 160.84 L188.8 161.27 L189.3 162.12 L189.8 160.29 L190.3 159.90 L190.8 160.39 L191.3 160.78 L191.8 160.23 L192.3 161.02 L192.8 160.47 L193.3 161.57 L193.8 161.41 L194.3 161.40 L194.8 160.96 L195.3 160.89 L195.8 159.58 L196.3 160.28 L196.8 159.31 L197.3 161.16 L197.8 159.78 L198.3 159.62 L198.8 159.89 L199.3 161.86 L199.8 160.03 L200.3 161.51 L200.8 160.84 L201.3 162.36 L201.8 160.67 L202.3 160.04 L202.8 160.21 L203.3 159.88 L203.8 159.72 L204.3 160.63 L204.8 160.01 L205.3 160.75 L205.8 160.73 L206.3 161.00 L206.8 161.43 L207.3 161.25 L207.8 159.80 L208.3 161.06 L208.8 158.82 L209.3 160.92 L209.8 161.31 L210.3 159.74 L210.8 161.05 L211.3 159.15 L211.8 160.73 L212.3 160.14 L212.8 160.08 L213.3 160.23 L213.8 159.99 L214.3 160.83 L214.8 160.44 L215.3 160.38 L215.8 160.50 L216.3 160.24 L216.8 159.69 L217.3 160.65 L217.8 161.07 L218.3 159.79 L218.8 160.94 L219.3 161.38 L219.8 160.73 L220.3 161.51 L220.8 159.14 L221.3 161.09 L221.8 159.97 L222.3 160.43 L222.8 159.70 L223.3 161.91 L223.8 160.39 L224.3 160.90" fill="none" stroke="#606060" stroke-width="0.9" stroke-linejoin="round"/>
<path d="M103.8 166.36 L104.3 167.51 L104.8 167.21 L105.3 166.36 L105.8 166.22 L106.3 167.58 L106.8 169.44 L107.3 168.80 L107.8 168.70 L108.3 169.54 L108.8 169.26 L109.3 169.29 L109.8 169.78 L110.3 170.14 L110.8 169.69 L111.3 169.44 L111.8 170.95 L112.3 169.76 L112.8 169.58 L113.3 170.09 L113.8 170.23 L114.3 170.53 L114.8 171.45 L115.3 171.51 L115.8 170.66 L116.3 170.64 L116.8 171.18 L117.3 170.64 L117.8 170.63 L118.3 169.76 L118.8 170.45 L119.3 170.22 L119.8 169.43 L120.3 170.36 L120.8 171.68 L121.3 170.90 L121.8 169.97 L122.3 171.04 L122.8 170.82 L123.3 170.58 L123.8 171.41 L124.3 171.25 L124.8 172.00 L125.3 170.39 L125.8 170.30 L126.3 170.59 L126.8 170.79 L127.3 169.99 L127.8 170.75 L128.3 169.83 L128.8 170.16 L129.3 170.48 L129.8 170.94 L130.3 171.08 L130.8 170.42 L131.3 170.93 L131.8 170.98 L132.3 170.73 L132.8 170.72 L133.3 170.39 L133.8 171.74 L134.3 171.80 L134.8 171.02 L135.3 171.51 L135.8 170.30 L136.3 170.25 L136.8 170.33 L137.3 170.86 L137.8 170.47 L138.3 169.97 L138.8 169.53 L139.3 169.72 L139.8 170.91 L140.3 170.94 L140.8 169.67 L141.3 171.49 L141.8 170.32 L142.3 170.14 L142.8 170.28 L143.3 170.50 L143.8 170.26 L144.3 170.41 L144.8 170.90 L145.3 171.10 L145.8 170.15 L146.3 170.33 L146.8 170.02 L147.3 170.22 L147.8 170.50 L148.3 170.41 L148.8 170.95 L149.3 170.16 L149.8 170.84 L150.3 171.10 L150.8 170.54 L151.3 170.40 L151.8 170.96 L152.3 170.51 L152.8 170.32 L153.3 170.63 L153.8 169.10 L154.3 170.63 L154.8 170.69 L155.3 170.91 L155.8 169.71 L156.3 170.13 L156.8 170.78 L157.3 170.97 L157.8 170.39 L158.3 170.42 L158.8 171.64 L159.3 171.14 L159.8 171.68 L160.3 170.28 L160.8 171.11 L161.3 170.69 L161.8 170.63 L162.3 171.73 L162.8 170.60 L163.3 170.41 L163.8 170.50 L164.3 170.73 L164.8 171.10 L165.3 171.34 L165.8 171.86 L166.3 171.45 L166.8 172.23 L167.3 171.95 L167.8 171.44 L168.3 170.93 L168.8 171.87 L169.3 170.99 L169.8 171.60 L170.3 171.30 L170.8 170.81 L171.3 171.44 L171.8 171.60 L172.3 171.53 L172.8 171.98 L173.3 171.35 L173.8 170.70 L174.3 171.05 L174.8 172.25 L175.3 170.70 L175.8 169.87 L176.3 170.73 L176.8 170.21 L177.3 171.57 L177.8 171.20 L178.3 170.37 L178.8 170.65 L179.3 170.25 L179.8 171.05 L180.3 171.51 L180.8 171.75 L181.3 171.71 L181.8 171.03 L182.3 171.63 L182.8 171.42 L183.3 170.24 L183.8 171.59 L184.3 170.49 L184.8 170.43 L185.3 169.92 L185.8 170.22 L186.3 169.51 L186.8 169.82 L187.3 170.17 L187.8 170.05 L188.3 170.54 L188.8 171.25 L189.3 170.69 L189.8 170.88 L190.3 171.46 L190.8 170.50 L191.3 171.68 L191.8 171.07 L192.3 170.97 L192.8 171.14 L193.3 171.78 L193.8 170.37 L194.3 171.26 L194.8 170.68 L195.3 170.98 L195.8 170.39 L196.3 169.30 L196.8 171.37 L197.3 171.42 L197.8 170.28 L198.3 170.11 L198.8 169.86 L199.3 170.62 L199.8 172.06 L200.3 170.85 L200.8 169.75 L201.3 171.03 L201.8 170.26 L202.3 169.64 L202.8 170.86 L203.3 170.84 L203.8 170.95 L204.3 171.20 L204.8 171.38 L205.3 169.61 L205.8 170.63 L206.3 171.41 L206.8 171.60 L207.3 170.15 L207.8 169.24 L208.3 169.57 L208.8 170.46 L209.3 170.20 L209.8 170.82 L210.3 170.39 L210.8 169.61 L211.3 169.62 L211.8 170.16 L212.3 170.73 L212.8 171.39 L213.3 169.92 L213.8 170.62 L214.3 170.42 L214.8 169.71 L215.3 169.53 L215.8 171.13 L216.3 170.27 L216.8 170.41 L217.3 170.83 L217.8 170.81 L218.3 171.05 L218.8 170.23 L219.3 170.35 L219.8 170.68 L220.3 170.94 L220.8 170.25 L221.3 169.48 L221.8 170.92 L222.3 171.21 L222.8 171.29 L223.3 170.58 L223.8 169.35 L224.3 169.98" fill="none" stroke="#000" stroke-width="1.9" stroke-linejoin="round"/>
<path d="M103.8 172.55 L104.3 175.13 L104.8 175.86 L105.3 176.24 L105.8 176.82 L106.3 176.55 L106.8 176.91 L107.3 178.35 L107.8 177.96 L108.3 179.43 L108.8 179.54 L109.3 179.53 L109.8 179.05 L110.3 178.65 L110.8 179.17 L111.3 178.89 L111.8 179.17 L112.3 179.38 L112.8 179.33 L113.3 180.55 L113.8 179.53 L114.3 179.55 L114.8 180.84 L115.3 180.52 L115.8 180.60 L116.3 179.91 L116.8 180.42 L117.3 181.16 L117.8 180.54 L118.3 180.73 L118.8 181.32 L119.3 181.12 L119.8 181.42 L120.3 179.89 L120.8 179.31 L121.3 179.59 L121.8 180.67 L122.3 180.11 L122.8 179.18 L123.3 181.65 L123.8 181.82 L124.3 180.66 L124.8 180.30 L125.3 180.19 L125.8 181.19 L126.3 181.14 L126.8 180.95 L127.3 181.75 L127.8 180.37 L128.3 179.87 L128.8 180.50 L129.3 180.58 L129.8 180.59 L130.3 180.76 L130.8 179.44 L131.3 181.35 L131.8 179.44 L132.3 180.44 L132.8 180.66 L133.3 181.18 L133.8 180.85 L134.3 180.11 L134.8 180.26 L135.3 179.50 L135.8 180.25 L136.3 180.26 L136.8 179.12 L137.3 181.63 L137.8 180.25 L138.3 180.80 L138.8 181.32 L139.3 180.59 L139.8 180.03 L140.3 179.44 L140.8 179.62 L141.3 179.61 L141.8 179.97 L142.3 180.68 L142.8 180.53 L143.3 181.32 L143.8 180.82 L144.3 180.73 L144.8 178.43 L145.3 179.91 L145.8 180.51 L146.3 179.39 L146.8 180.14 L147.3 179.80 L147.8 180.00 L148.3 180.10 L148.8 180.04 L149.3 180.14 L149.8 180.40 L150.3 180.51 L150.8 179.86 L151.3 180.80 L151.8 180.38 L152.3 180.53 L152.8 181.49 L153.3 181.62 L153.8 182.01 L154.3 180.50 L154.8 180.64 L155.3 180.80 L155.8 180.63 L156.3 180.36 L156.8 180.94 L157.3 181.21 L157.8 181.96 L158.3 180.32 L158.8 180.65 L159.3 179.88 L159.8 180.08 L160.3 178.57 L160.8 181.38 L161.3 179.41 L161.8 180.23 L162.3 179.10 L162.8 179.93 L163.3 179.69 L163.8 178.89 L164.3 179.49 L164.8 180.11 L165.3 180.28 L165.8 179.04 L166.3 180.55 L166.8 180.14 L167.3 179.47 L167.8 181.15 L168.3 179.90 L168.8 180.35 L169.3 181.27 L169.8 180.47 L170.3 180.20 L170.8 180.95 L171.3 180.19 L171.8 180.37 L172.3 180.23 L172.8 180.12 L173.3 180.86 L173.8 180.63 L174.3 181.39 L174.8 180.89 L175.3 179.57 L175.8 180.54 L176.3 180.38 L176.8 180.32 L177.3 181.20 L177.8 181.09 L178.3 179.78 L178.8 181.89 L179.3 180.90 L179.8 179.69 L180.3 180.47 L180.8 181.23 L181.3 180.33 L181.8 180.38 L182.3 179.77 L182.8 180.97 L183.3 180.82 L183.8 182.04 L184.3 181.50 L184.8 181.40 L185.3 180.79 L185.8 181.80 L186.3 180.39 L186.8 181.27 L187.3 181.57 L187.8 180.72 L188.3 180.34 L188.8 181.80 L189.3 182.58 L189.8 181.68 L190.3 182.50 L190.8 181.76 L191.3 181.23 L191.8 180.88 L192.3 180.23 L192.8 181.56 L193.3 180.74 L193.8 180.58 L194.3 181.36 L194.8 181.60 L195.3 180.84 L195.8 181.26 L196.3 181.13 L196.8 181.32 L197.3 181.28 L197.8 181.02 L198.3 179.67 L198.8 180.60 L199.3 181.98 L199.8 181.19 L200.3 181.38 L200.8 181.61 L201.3 180.55 L201.8 181.16 L202.3 180.92 L202.8 181.37 L203.3 181.65 L203.8 181.30 L204.3 180.99 L204.8 181.79 L205.3 181.35 L205.8 180.19 L206.3 181.79 L206.8 181.50 L207.3 180.80 L207.8 181.05 L208.3 180.42 L208.8 181.11 L209.3 180.05 L209.8 181.46 L210.3 181.45 L210.8 180.41 L211.3 181.22 L211.8 180.15 L212.3 180.47 L212.8 180.26 L213.3 181.34 L213.8 181.56 L214.3 180.20 L214.8 180.92 L215.3 181.29 L215.8 180.74 L216.3 182.52 L216.8 180.10 L217.3 181.59 L217.8 182.02 L218.3 180.76 L218.8 179.99 L219.3 181.47 L219.8 179.27 L220.3 180.54 L220.8 179.78 L221.3 180.64 L221.8 180.45 L222.3 179.74 L222.8 180.91 L223.3 181.60 L223.8 180.02 L224.3 181.08" fill="none" stroke="#000" stroke-width="2.0" stroke-linejoin="round"/>
<path d="M142.3 219.7 V214.8 H184.8 V219.7" fill="none" stroke="#000" stroke-width="1.5" stroke-linejoin="round"/>
<text x="146.4" y="227.6" font-size="10" text-anchor="start" stroke="#000" stroke-width="0.2" textLength="34.8" lengthAdjust="spacingAndGlyphs" >100 ms</text>
<text transform="translate(12.7 120.0) rotate(-90)" font-size="16" stroke="#000" stroke-width="0.25" text-anchor="middle">pA</text>
<text x="133.0" y="50.2" font-size="14.5" text-anchor="start" stroke="#000" stroke-width="0.25" textLength="61.8" lengthAdjust="spacingAndGlyphs" >t = 0 min</text>
<text x="285.9" y="20.5" font-size="25.5" text-anchor="start" stroke="#000" stroke-width="0" font-weight="bold" textLength="17.9" lengthAdjust="spacingAndGlyphs" >B</text>
<line x1="320.0" y1="35.6" x2="320.0" y2="203.8" stroke="#000" stroke-width="2.0" stroke-linecap="butt"/>
<line x1="315.6" y1="36.5" x2="320.0" y2="36.5" stroke="#000" stroke-width="1.5" stroke-linecap="butt"/>
<text x="309.2" y="40.7" font-size="13.5" text-anchor="end" stroke="#000" stroke-width="0.25" textLength="21.7" lengthAdjust="spacingAndGlyphs" >500</text>
<line x1="315.6" y1="78.2" x2="320.0" y2="78.2" stroke="#000" stroke-width="1.5" stroke-linecap="butt"/>
<text x="309.2" y="82.4" font-size="13.5" text-anchor="end" stroke="#000" stroke-width="0.25" textLength="21.7" lengthAdjust="spacingAndGlyphs" >250</text>
<line x1="315.6" y1="119.8" x2="320.0" y2="119.8" stroke="#000" stroke-width="1.5" stroke-linecap="butt"/>
<text x="309.2" y="124.0" font-size="13.5" text-anchor="end" stroke="#000" stroke-width="0.25" textLength="7.2" lengthAdjust="spacingAndGlyphs" >0</text>
<line x1="315.6" y1="161.5" x2="320.0" y2="161.5" stroke="#000" stroke-width="1.5" stroke-linecap="butt"/>
<text x="309.2" y="165.7" font-size="13.5" text-anchor="end" stroke="#000" stroke-width="0.25" textLength="26.0" lengthAdjust="spacingAndGlyphs" >-250</text>
<line x1="315.6" y1="203.1" x2="320.0" y2="203.1" stroke="#000" stroke-width="1.5" stroke-linecap="butt"/>
<text x="309.2" y="207.3" font-size="13.5" text-anchor="end" stroke="#000" stroke-width="0.25" textLength="26.0" lengthAdjust="spacingAndGlyphs" >-500</text>
<line x1="359.3" y1="36" x2="359.3" y2="203.4" stroke="#111" stroke-width="1.0" stroke-linecap="butt"/>
<line x1="480.5" y1="36" x2="480.5" y2="203.4" stroke="#111" stroke-width="1.0" stroke-linecap="butt"/>
<path d="M359.3 106.36 L359.8 106.03 L360.3 106.55 L360.8 106.77 L361.3 106.81 L361.8 107.07 L362.3 107.34 L362.8 107.73 L363.3 108.20 L363.8 108.74 L364.3 108.81 L364.8 109.23 L365.3 109.27 L365.8 109.23 L366.3 109.16 L366.8 108.90 L367.3 108.61 L367.8 109.03 L368.3 109.24 L368.8 109.56 L369.3 109.75 L369.8 109.32 L370.3 109.32 L370.8 109.21 L371.3 109.90 L371.8 109.89 L372.3 109.98 L372.8 109.69 L373.3 109.43 L373.8 109.55 L374.3 109.79 L374.8 110.12 L375.3 109.61 L375.8 110.00 L376.3 109.80 L376.8 109.82 L377.3 109.91 L377.8 109.92 L378.3 110.25 L378.8 110.56 L379.3 110.54 L379.8 110.23 L380.3 110.41 L380.8 110.49 L381.3 110.70 L381.8 110.61 L382.3 109.92 L382.8 109.87 L383.3 109.98 L383.8 110.49 L384.3 110.39 L384.8 110.70 L385.3 110.65 L385.8 110.11 L386.3 110.27 L386.8 110.53 L387.3 110.62 L387.8 110.01 L388.3 110.37 L388.8 110.20 L389.3 109.59 L389.8 109.82 L390.3 109.46 L390.8 109.52 L391.3 110.49 L391.8 111.33 L392.3 111.27 L392.8 111.03 L393.3 111.41 L393.8 111.07 L394.3 110.45 L394.8 109.63 L395.3 110.38 L395.8 109.67 L396.3 109.11 L396.8 109.59 L397.3 110.08 L397.8 110.01 L398.3 110.64 L398.8 110.56 L399.3 110.63 L399.8 110.75 L400.3 110.45 L400.8 110.58 L401.3 111.39 L401.8 110.66 L402.3 110.68 L402.8 110.82 L403.3 110.52 L403.8 110.54 L404.3 109.98 L404.8 110.14 L405.3 110.39 L405.8 110.90 L406.3 111.09 L406.8 110.66 L407.3 110.26 L407.8 111.09 L408.3 111.18 L408.8 110.25 L409.3 110.34 L409.8 110.19 L410.3 110.22 L410.8 109.85 L411.3 110.12 L411.8 110.22 L412.3 110.38 L412.8 110.90 L413.3 110.88 L413.8 110.37 L414.3 109.94 L414.8 110.14 L415.3 110.84 L415.8 111.11 L416.3 110.72 L416.8 111.14 L417.3 111.09 L417.8 110.71 L418.3 110.89 L418.8 110.80 L419.3 110.39 L419.8 110.43 L420.3 110.66 L420.8 111.19 L421.3 110.63 L421.8 110.79 L422.3 110.81 L422.8 110.79 L423.3 110.37 L423.8 111.04 L424.3 111.38 L424.8 111.67 L425.3 111.41 L425.8 111.65 L426.3 111.43 L426.8 111.49 L427.3 111.06 L427.8 111.04 L428.3 110.84 L428.8 110.49 L429.3 110.53 L429.8 110.31 L430.3 110.21 L430.8 110.41 L431.3 110.44 L431.8 111.40 L432.3 111.78 L432.8 111.72 L433.3 111.60 L433.8 110.96 L434.3 111.04 L434.8 110.48 L435.3 110.49 L435.8 110.55 L436.3 110.62 L436.8 111.09 L437.3 110.75 L437.8 111.70 L438.3 111.16 L438.8 111.37 L439.3 110.62 L439.8 111.12 L440.3 110.62 L440.8 110.88 L441.3 110.94 L441.8 111.26 L442.3 111.35 L442.8 111.32 L443.3 111.12 L443.8 111.76 L444.3 111.24 L444.8 111.14 L445.3 110.93 L445.8 111.03 L446.3 110.70 L446.8 110.74 L447.3 111.08 L447.8 110.87 L448.3 111.13 L448.8 110.90 L449.3 111.49 L449.8 111.24 L450.3 111.79 L450.8 111.62 L451.3 111.31 L451.8 111.54 L452.3 111.74 L452.8 111.97 L453.3 112.03 L453.8 111.90 L454.3 111.10 L454.8 111.45 L455.3 111.26 L455.8 111.35 L456.3 111.70 L456.8 111.17 L457.3 111.64 L457.8 112.25 L458.3 111.90 L458.8 111.43 L459.3 111.79 L459.8 111.55 L460.3 111.74 L460.8 111.91 L461.3 111.02 L461.8 111.23 L462.3 110.68 L462.8 110.70 L463.3 111.17 L463.8 110.78 L464.3 110.75 L464.8 110.83 L465.3 111.15 L465.8 111.32 L466.3 111.44 L466.8 111.17 L467.3 110.95 L467.8 111.25 L468.3 110.95 L468.8 110.83 L469.3 111.30 L469.8 111.01 L470.3 110.83 L470.8 111.46 L471.3 111.36 L471.8 110.54 L472.3 110.66 L472.8 111.67 L473.3 112.49 L473.8 111.80 L474.3 111.81 L474.8 111.83 L475.3 111.69 L475.8 110.87 L476.3 111.46 L476.8 111.50 L477.3 111.34 L477.8 110.78 L478.3 110.85 L478.8 111.06 L479.3 111.13 L479.8 111.33 L480.3 111.22 L480.5 115.6 L359.3 115.6 Z" fill="#000"/>
<path d="M359.3 116.72 L359.9 116.76 L360.5 116.34 L361.1 115.83 L361.7 116.41 L362.3 116.78 L362.9 116.50 L363.5 116.19 L364.1 116.38 L364.7 116.10 L365.3 116.62 L365.9 115.84 L366.5 115.73 L367.1 116.12 L367.7 117.16 L368.3 117.15 L368.9 115.45 L369.5 116.02 L370.1 116.68 L370.7 117.23 L371.3 116.16 L371.9 115.73 L372.5 116.89 L373.1 117.01 L373.7 116.23 L374.3 115.25 L374.9 116.92 L375.5 116.97 L376.1 116.07 L376.7 115.72 L377.3 115.98 L377.9 117.10 L378.5 117.07 L379.1 116.29 L379.7 116.08 L380.3 116.39 L380.9 116.91 L381.5 116.28 L382.1 115.88 L382.7 116.31 L383.3 117.03 L383.9 116.34 L384.5 115.64 L385.1 115.85 L385.7 116.61 L386.3 116.49 L386.9 115.76 L387.5 116.02 L388.1 116.96 L388.7 117.15 L389.3 116.17 L389.9 115.75 L390.5 116.76 L391.1 116.54 L391.7 116.35 L392.3 115.63 L392.9 116.84 L393.5 117.40 L394.1 116.82 L394.7 115.44 L395.3 115.69 L395.9 116.96 L396.5 117.28 L397.1 116.58 L397.7 115.68 L398.3 116.92 L398.9 117.39 L399.5 116.62 L400.1 115.80 L400.7 116.22 L401.3 116.83 L401.9 117.17 L402.5 116.20 L403.1 115.81 L403.7 116.06 L404.3 116.72 L404.9 115.96 L405.5 115.77 L406.1 116.80 L406.7 117.39 L407.3 116.47 L407.9 115.95 L408.5 116.05 L409.1 116.88 L409.7 116.32 L410.3 116.41 L410.9 116.16 L411.5 116.81 L412.1 117.11 L412.7 116.57 L413.3 115.96 L413.9 116.92 L414.5 117.57 L415.1 116.98 L415.7 115.82 L416.3 116.19 L416.9 116.57 L417.5 116.32 L418.1 115.75 L418.7 115.84 L419.3 116.62 L419.9 117.01 L420.5 115.96 L421.1 115.53 L421.7 116.29 L422.3 117.23 L422.9 116.33 L423.5 115.89 L424.1 116.08 L424.7 116.74 L425.3 117.11 L425.9 115.57 L426.5 115.61 L427.1 116.85 L427.7 117.41 L428.3 116.25 L428.9 115.67 L429.5 116.68 L430.1 117.27 L430.7 116.86 L431.3 115.76 L431.9 115.88 L432.5 117.06 L433.1 116.87 L433.7 115.66 L434.3 115.59 L434.9 116.64 L435.5 117.38 L436.1 116.00 L436.7 115.93 L437.3 116.28 L437.9 116.59 L438.5 116.19 L439.1 115.69 L439.7 115.52 L440.3 117.04 L440.9 116.68 L441.5 115.71 L442.1 115.93 L442.7 116.82 L443.3 117.24 L443.9 116.66 L444.5 115.77 L445.1 116.62 L445.7 117.12 L446.3 116.11 L446.9 116.23 L447.5 116.02 L448.1 116.96 L448.7 116.56 L449.3 115.90 L449.9 116.29 L450.5 116.81 L451.1 117.40 L451.7 116.18 L452.3 115.80 L452.9 116.30 L453.5 116.64 L454.1 116.34 L454.7 115.84 L455.3 115.88 L455.9 117.51 L456.5 116.96 L457.1 115.92 L457.7 116.38 L458.3 116.27 L458.9 117.04 L459.5 116.14 L460.1 115.92 L460.7 116.18 L461.3 117.13 L461.9 116.56 L462.5 115.56 L463.1 116.04 L463.7 116.70 L464.3 116.74 L464.9 115.80 L465.5 116.41 L466.1 116.28 L466.7 117.47 L467.3 116.28 L467.9 115.89 L468.5 116.05 L469.1 117.34 L469.7 116.76 L470.3 115.87 L470.9 115.80 L471.5 117.56 L472.1 116.61 L472.7 115.55 L473.3 115.48 L473.9 116.87 L474.5 117.12 L475.1 115.88 L475.7 115.75 L476.3 116.82 L476.9 116.89 L477.5 116.22 L478.1 115.56 L478.7 116.43 L479.3 116.83 L479.9 116.73 L480.5 115.60" fill="none" stroke="#000" stroke-width="0.8" stroke-linejoin="round"/>
<path d="M359.3 117.35 L359.9 117.37 L360.5 118.08 L361.1 118.20 L361.7 117.62 L362.3 117.29 L362.9 117.43 L363.5 118.20 L364.1 118.23 L364.7 117.08 L365.3 117.19 L365.9 117.70 L366.5 118.06 L367.1 117.53 L367.7 117.13 L368.3 117.77 L368.9 118.42 L369.5 117.62 L370.1 117.33 L370.7 117.52 L371.3 118.45 L371.9 118.06 L372.5 117.20 L373.1 117.25 L373.7 118.61 L374.3 117.81 L374.9 117.18 L375.5 116.67 L376.1 118.00 L376.7 118.17 L377.3 117.60 L377.9 116.83 L378.5 117.61 L379.1 117.98 L379.7 117.59 L380.3 117.18 L380.9 117.45 L381.5 118.01 L382.1 117.94 L382.7 117.56 L383.3 117.28 L383.9 117.76 L384.5 118.29 L385.1 117.69 L385.7 117.38 L386.3 117.79 L386.9 118.32 L387.5 117.72 L388.1 117.53 L388.7 117.61 L389.3 117.93 L389.9 118.33 L390.5 117.42 L391.1 117.01 L391.7 117.84 L392.3 117.88 L392.9 117.87 L393.5 116.89 L394.1 117.94 L394.7 117.97 L395.3 117.83 L395.9 117.52 L396.5 117.47 L397.1 117.68 L397.7 118.02 L398.3 116.99 L398.9 117.38 L399.5 117.62 L400.1 118.14 L400.7 117.59 L401.3 116.84 L401.9 117.69 L402.5 118.56 L403.1 117.66 L403.7 117.11 L404.3 117.47 L404.9 118.32 L405.5 117.86 L406.1 117.44 L406.7 117.31 L407.3 118.09 L407.9 117.98 L408.5 118.17 L409.1 117.63 L409.7 117.31 L410.3 117.99 L410.9 117.94 L411.5 117.10 L412.1 117.27 L412.7 118.05 L413.3 117.89 L413.9 117.26 L414.5 117.28 L415.1 117.76 L415.7 118.25 L416.3 117.86 L416.9 117.43 L417.5 117.64 L418.1 118.62 L418.7 117.78 L419.3 117.44 L419.9 117.80 L420.5 118.10 L421.1 118.24 L421.7 117.30 L422.3 117.11 L422.9 117.90 L423.5 118.28 L424.1 117.71 L424.7 117.33 L425.3 117.69 L425.9 118.15 L426.5 117.73 L427.1 117.22 L427.7 117.41 L428.3 118.05 L428.9 117.82 L429.5 117.69 L430.1 117.48 L430.7 117.91 L431.3 118.07 L431.9 117.87 L432.5 117.14 L433.1 117.57 L433.7 118.30 L434.3 117.75 L434.9 117.28 L435.5 117.29 L436.1 118.19 L436.7 118.16 L437.3 117.57 L437.9 117.34 L438.5 117.93 L439.1 118.26 L439.7 117.81 L440.3 116.98 L440.9 117.37 L441.5 118.19 L442.1 117.91 L442.7 117.20 L443.3 117.73 L443.9 118.16 L444.5 118.34 L445.1 117.43 L445.7 116.95 L446.3 117.56 L446.9 118.41 L447.5 117.65 L448.1 117.09 L448.7 117.91 L449.3 118.55 L449.9 117.96 L450.5 117.53 L451.1 117.34 L451.7 117.86 L452.3 117.71 L452.9 117.65 L453.5 116.91 L454.1 117.78 L454.7 118.19 L455.3 117.76 L455.9 116.78 L456.5 117.58 L457.1 118.00 L457.7 118.19 L458.3 117.21 L458.9 117.26 L459.5 118.44 L460.1 118.10 L460.7 117.58 L461.3 117.32 L461.9 117.83 L462.5 118.34 L463.1 117.48 L463.7 116.89 L464.3 117.48 L464.9 118.31 L465.5 117.79 L466.1 117.48 L466.7 117.56 L467.3 118.11 L467.9 118.31 L468.5 117.50 L469.1 117.32 L469.7 117.81 L470.3 118.16 L470.9 117.62 L471.5 117.42 L472.1 117.97 L472.7 118.41 L473.3 117.93 L473.9 117.23 L474.5 117.46 L475.1 117.94 L475.7 118.07 L476.3 117.34 L476.9 117.24 L477.5 117.35 L478.1 118.18 L478.7 117.78 L479.3 116.96 L479.9 118.01 L480.5 118.21" fill="none" stroke="#111" stroke-width="0.7" stroke-linejoin="round"/>
<line x1="356.0" y1="119.0" x2="480.5" y2="119.0" stroke="#000" stroke-width="1.4" stroke-linecap="butt"/>
<path d="M480.5 118.83 L481.0 119.02 L481.5 118.85 L482.0 119.18 L482.5 118.97 L483.0 119.04 L483.5 119.14 L484.0 119.11 L484.5 119.03 L485.0 118.89 L485.5 118.87 L486.0 118.91 L486.5 119.01 L487.0 118.70 L487.5 118.86 L488.0 118.74 L488.5 118.74 L489.0 118.80 L489.5 118.77 L490.0 118.89 L490.5 118.70 L491.0 118.84 L491.5 118.75 L492.0 118.77 L492.5 118.82 L493.0 118.69 L493.5 118.83 L494.0 119.10 L494.5 118.93 L495.0 118.81 L495.5 119.02 L496.0 119.16 L496.5 118.80 L497.0 118.80 L497.5 118.75 L498.0 118.83 L498.5 118.85 L499.0 118.75 L499.5 118.76 L500.0 118.95 L500.5 118.81 L501.0 118.87 L501.5 118.95 L502.0 119.13 L502.5 119.07 L503.0 119.02 L503.5 118.85 L504.0 118.90 L504.5 119.05 L505.0 119.03 L505.5 119.11 L506.0 118.96 L506.5 119.02 L507.0 118.93 L507.5 118.83 L508.0 118.79 L508.5 118.97 L509.0 119.00 L509.5 118.93 L510.0 118.88 L510.5 118.98 L511.0 118.89 L511.5 119.02 L512.0 119.00 L512.5 118.89 L513.0 118.87 L513.5 118.76 L514.0 118.69 L514.5 118.72 L515.0 118.74 L515.5 118.77 L516.0 118.74 L516.5 118.73 L517.0 118.84 L517.5 118.71 L518.0 118.50" fill="none" stroke="#000" stroke-width="1.9"/>
<path d="M359.3 122.32 L359.8 122.08 L360.3 122.05 L360.8 122.24 L361.3 122.27 L361.8 122.34 L362.3 122.27 L362.8 122.22 L363.3 122.16 L363.8 122.03 L364.3 122.01 L364.8 121.34 L365.3 122.22 L365.8 122.06 L366.3 121.86 L366.8 122.23 L367.3 121.95 L367.8 122.11 L368.3 121.91 L368.8 121.81 L369.3 122.23 L369.8 122.13 L370.3 121.79 L370.8 122.15 L371.3 122.27 L371.8 122.07 L372.3 122.22 L372.8 122.37 L373.3 122.38 L373.8 122.28 L374.3 122.29 L374.8 122.46 L375.3 122.22 L375.8 122.09 L376.3 122.06 L376.8 122.74 L377.3 122.05 L377.8 122.12 L378.3 121.78 L378.8 122.06 L379.3 122.09 L379.8 122.12 L380.3 122.29 L380.8 122.47 L381.3 122.26 L381.8 122.03 L382.3 122.04 L382.8 122.15 L383.3 122.03 L383.8 122.13 L384.3 122.27 L384.8 122.24 L385.3 122.59 L385.8 121.95 L386.3 122.17 L386.8 122.40 L387.3 122.03 L387.8 121.84 L388.3 122.54 L388.8 122.47 L389.3 122.37 L389.8 122.48 L390.3 122.08 L390.8 121.98 L391.3 122.48 L391.8 122.31 L392.3 121.94 L392.8 122.16 L393.3 122.53 L393.8 122.10 L394.3 121.91 L394.8 121.73 L395.3 122.12 L395.8 122.22 L396.3 122.13 L396.8 122.13 L397.3 122.19 L397.8 122.14 L398.3 122.14 L398.8 122.45 L399.3 122.33 L399.8 122.40 L400.3 121.96 L400.8 122.05 L401.3 122.45 L401.8 122.36 L402.3 122.52 L402.8 122.07 L403.3 122.39 L403.8 122.23 L404.3 122.31 L404.8 122.19 L405.3 122.12 L405.8 122.09 L406.3 122.26 L406.8 122.53 L407.3 122.18 L407.8 122.20 L408.3 122.13 L408.8 122.15 L409.3 122.45 L409.8 122.30 L410.3 122.17 L410.8 122.47 L411.3 122.46 L411.8 122.47 L412.3 122.43 L412.8 122.28 L413.3 122.53 L413.8 122.30 L414.3 122.42 L414.8 122.44 L415.3 122.64 L415.8 122.42 L416.3 122.57 L416.8 122.12 L417.3 122.39 L417.8 122.46 L418.3 122.45 L418.8 122.04 L419.3 122.50 L419.8 122.33 L420.3 122.29 L420.8 122.72 L421.3 122.46 L421.8 122.64 L422.3 122.16 L422.8 122.54 L423.3 122.52 L423.8 122.54 L424.3 122.30 L424.8 122.51 L425.3 122.45 L425.8 122.74 L426.3 122.44 L426.8 122.17 L427.3 122.64 L427.8 122.32 L428.3 122.43 L428.8 122.64 L429.3 122.87 L429.8 122.70 L430.3 122.70 L430.8 122.60 L431.3 122.57 L431.8 122.53 L432.3 122.60 L432.8 122.38 L433.3 122.55 L433.8 122.78 L434.3 122.63 L434.8 122.54 L435.3 122.70 L435.8 122.42 L436.3 122.50 L436.8 123.00 L437.3 122.82 L437.8 122.78 L438.3 122.60 L438.8 122.45 L439.3 122.34 L439.8 122.55 L440.3 122.84 L440.8 122.64 L441.3 122.78 L441.8 122.59 L442.3 122.63 L442.8 122.69 L443.3 123.21 L443.8 122.77 L444.3 122.48 L444.8 122.78 L445.3 122.66 L445.8 122.75 L446.3 122.53 L446.8 122.80 L447.3 122.55 L447.8 122.71 L448.3 122.59 L448.8 122.51 L449.3 122.75 L449.8 122.77 L450.3 122.30 L450.8 122.74 L451.3 122.85 L451.8 122.75 L452.3 122.77 L452.8 122.76 L453.3 122.77 L453.8 122.65 L454.3 122.90 L454.8 122.99 L455.3 122.60 L455.8 122.71 L456.3 122.54 L456.8 122.60 L457.3 122.89 L457.8 122.77 L458.3 122.78 L458.8 122.68 L459.3 123.18 L459.8 123.06 L460.3 122.89 L460.8 122.82 L461.3 123.11 L461.8 123.06 L462.3 122.88 L462.8 122.76 L463.3 122.55 L463.8 122.99 L464.3 123.15 L464.8 123.31 L465.3 122.95 L465.8 123.00 L466.3 122.46 L466.8 122.86 L467.3 122.67 L467.8 122.62 L468.3 122.61 L468.8 122.61 L469.3 122.68 L469.8 122.90 L470.3 122.70 L470.8 122.73 L471.3 122.78 L471.8 123.21 L472.3 123.06 L472.8 122.77 L473.3 122.98 L473.8 123.20 L474.3 122.89 L474.8 123.01 L475.3 123.10 L475.8 122.64 L476.3 122.85 L476.8 122.85 L477.3 123.03 L477.8 123.16 L478.3 122.85 L478.8 122.59 L479.3 122.74 L479.8 122.87 L480.3 122.77" fill="none" stroke="#111" stroke-width="1.1" stroke-linejoin="round"/>
<path d="M359.3 126.05 L359.8 125.73 L360.3 126.19 L360.8 126.35 L361.3 126.81 L361.8 126.35 L362.3 126.60 L362.8 126.17 L363.3 126.12 L363.8 126.11 L364.3 126.27 L364.8 126.04 L365.3 125.87 L365.8 126.93 L366.3 126.46 L366.8 126.46 L367.3 126.53 L367.8 126.39 L368.3 126.43 L368.8 126.77 L369.3 126.62 L369.8 126.79 L370.3 126.22 L370.8 126.54 L371.3 126.21 L371.8 126.08 L372.3 126.59 L372.8 126.56 L373.3 126.68 L373.8 126.68 L374.3 126.01 L374.8 126.57 L375.3 127.04 L375.8 126.68 L376.3 126.83 L376.8 126.96 L377.3 127.10 L377.8 126.00 L378.3 126.36 L378.8 126.47 L379.3 126.45 L379.8 126.83 L380.3 126.26 L380.8 125.84 L381.3 126.45 L381.8 126.43 L382.3 126.75 L382.8 126.82 L383.3 126.66 L383.8 126.86 L384.3 126.18 L384.8 126.37 L385.3 126.06 L385.8 126.84 L386.3 126.44 L386.8 126.68 L387.3 126.61 L387.8 126.68 L388.3 126.77 L388.8 126.82 L389.3 126.76 L389.8 126.53 L390.3 126.70 L390.8 125.99 L391.3 126.15 L391.8 126.79 L392.3 126.65 L392.8 126.08 L393.3 125.97 L393.8 125.98 L394.3 126.20 L394.8 126.63 L395.3 126.48 L395.8 126.65 L396.3 126.17 L396.8 126.44 L397.3 126.54 L397.8 126.62 L398.3 126.72 L398.8 126.56 L399.3 126.70 L399.8 126.88 L400.3 126.74 L400.8 126.27 L401.3 126.32 L401.8 126.30 L402.3 126.91 L402.8 126.86 L403.3 126.62 L403.8 126.39 L404.3 126.36 L404.8 126.88 L405.3 126.55 L405.8 126.38 L406.3 126.32 L406.8 126.69 L407.3 126.09 L407.8 126.32 L408.3 126.67 L408.8 126.79 L409.3 126.76 L409.8 126.53 L410.3 126.80 L410.8 127.08 L411.3 126.41 L411.8 126.30 L412.3 126.37 L412.8 126.49 L413.3 126.37 L413.8 126.27 L414.3 125.82 L414.8 126.57 L415.3 126.21 L415.8 126.42 L416.3 126.29 L416.8 126.64 L417.3 126.16 L417.8 126.09 L418.3 126.42 L418.8 126.48 L419.3 126.37 L419.8 126.60 L420.3 126.39 L420.8 126.40 L421.3 126.17 L421.8 126.44 L422.3 126.75 L422.8 126.51 L423.3 126.50 L423.8 126.75 L424.3 126.50 L424.8 126.43 L425.3 126.61 L425.8 127.03 L426.3 126.52 L426.8 126.49 L427.3 126.62 L427.8 126.42 L428.3 126.40 L428.8 126.83 L429.3 126.11 L429.8 126.55 L430.3 126.76 L430.8 126.92 L431.3 126.69 L431.8 126.75 L432.3 126.49 L432.8 126.14 L433.3 126.63 L433.8 126.70 L434.3 126.81 L434.8 127.05 L435.3 127.45 L435.8 127.00 L436.3 127.24 L436.8 126.87 L437.3 126.90 L437.8 126.56 L438.3 126.80 L438.8 126.67 L439.3 126.83 L439.8 126.47 L440.3 127.07 L440.8 126.49 L441.3 126.91 L441.8 126.32 L442.3 126.75 L442.8 126.89 L443.3 127.06 L443.8 127.28 L444.3 126.60 L444.8 126.74 L445.3 126.78 L445.8 126.84 L446.3 127.22 L446.8 126.79 L447.3 126.59 L447.8 126.66 L448.3 127.10 L448.8 126.72 L449.3 126.39 L449.8 126.68 L450.3 127.14 L450.8 127.34 L451.3 126.83 L451.8 126.69 L452.3 127.07 L452.8 127.18 L453.3 126.96 L453.8 126.90 L454.3 127.08 L454.8 126.49 L455.3 127.18 L455.8 126.65 L456.3 126.34 L456.8 127.15 L457.3 126.96 L457.8 127.14 L458.3 126.54 L458.8 126.93 L459.3 126.99 L459.8 126.97 L460.3 126.96 L460.8 126.87 L461.3 126.86 L461.8 126.61 L462.3 127.39 L462.8 126.84 L463.3 126.52 L463.8 126.87 L464.3 126.77 L464.8 126.62 L465.3 127.64 L465.8 127.12 L466.3 126.45 L466.8 126.63 L467.3 126.69 L467.8 126.76 L468.3 126.94 L468.8 126.95 L469.3 127.34 L469.8 126.79 L470.3 126.75 L470.8 127.08 L471.3 127.18 L471.8 126.81 L472.3 126.65 L472.8 127.07 L473.3 126.98 L473.8 127.09 L474.3 127.11 L474.8 126.93 L475.3 126.82 L475.8 126.80 L476.3 126.78 L476.8 126.44 L477.3 126.84 L477.8 127.00 L478.3 127.01 L478.8 126.62 L479.3 126.72 L479.8 127.09 L480.3 127.15" fill="none" stroke="#777" stroke-width="0.8" stroke-linejoin="round"/>
<path d="M359.3 129.99 L359.8 130.47 L360.3 130.59 L360.8 131.00 L361.3 130.77 L361.8 130.91 L362.3 131.07 L362.8 131.09 L363.3 130.94 L363.8 131.29 L364.3 131.39 L364.8 131.50 L365.3 131.69 L365.8 131.13 L366.3 131.50 L366.8 131.87 L367.3 131.74 L367.8 131.70 L368.3 131.45 L368.8 131.53 L369.3 131.13 L369.8 132.62 L370.3 132.14 L370.8 132.08 L371.3 132.24 L371.8 131.90 L372.3 131.97 L372.8 131.90 L373.3 131.48 L373.8 130.84 L374.3 131.88 L374.8 132.26 L375.3 132.23 L375.8 131.89 L376.3 132.21 L376.8 132.39 L377.3 132.55 L377.8 132.20 L378.3 132.45 L378.8 131.33 L379.3 132.23 L379.8 132.39 L380.3 131.65 L380.8 131.99 L381.3 132.30 L381.8 132.70 L382.3 132.65 L382.8 132.78 L383.3 132.23 L383.8 132.09 L384.3 132.35 L384.8 131.83 L385.3 131.60 L385.8 132.24 L386.3 131.99 L386.8 132.11 L387.3 132.57 L387.8 131.18 L388.3 131.83 L388.8 132.39 L389.3 132.07 L389.8 132.66 L390.3 131.66 L390.8 131.92 L391.3 131.81 L391.8 131.83 L392.3 131.50 L392.8 131.91 L393.3 131.60 L393.8 131.52 L394.3 132.12 L394.8 132.06 L395.3 131.51 L395.8 131.91 L396.3 132.29 L396.8 132.47 L397.3 132.13 L397.8 132.59 L398.3 132.08 L398.8 131.79 L399.3 131.69 L399.8 132.00 L400.3 130.97 L400.8 132.55 L401.3 132.46 L401.8 131.82 L402.3 131.81 L402.8 132.15 L403.3 132.67 L403.8 131.44 L404.3 132.24 L404.8 132.11 L405.3 131.74 L405.8 132.08 L406.3 131.61 L406.8 131.29 L407.3 131.14 L407.8 132.74 L408.3 131.90 L408.8 131.75 L409.3 131.78 L409.8 131.66 L410.3 131.39 L410.8 132.10 L411.3 132.05 L411.8 132.21 L412.3 131.43 L412.8 132.41 L413.3 132.15 L413.8 132.38 L414.3 131.80 L414.8 131.78 L415.3 131.36 L415.8 132.45 L416.3 132.22 L416.8 131.56 L417.3 131.89 L417.8 131.99 L418.3 132.08 L418.8 132.43 L419.3 132.59 L419.8 132.38 L420.3 131.70 L420.8 131.60 L421.3 131.55 L421.8 131.59 L422.3 132.14 L422.8 131.82 L423.3 131.94 L423.8 132.37 L424.3 131.92 L424.8 132.90 L425.3 131.35 L425.8 132.25 L426.3 131.72 L426.8 132.10 L427.3 131.95 L427.8 131.92 L428.3 131.56 L428.8 131.96 L429.3 131.51 L429.8 131.85 L430.3 131.60 L430.8 131.40 L431.3 132.42 L431.8 132.20 L432.3 131.82 L432.8 132.25 L433.3 132.36 L433.8 132.77 L434.3 132.27 L434.8 132.29 L435.3 131.58 L435.8 132.76 L436.3 131.97 L436.8 132.09 L437.3 132.19 L437.8 132.44 L438.3 132.22 L438.8 132.08 L439.3 132.15 L439.8 132.77 L440.3 132.69 L440.8 132.51 L441.3 132.50 L441.8 131.78 L442.3 131.89 L442.8 131.69 L443.3 132.97 L443.8 131.67 L444.3 131.64 L444.8 131.83 L445.3 132.04 L445.8 131.54 L446.3 131.64 L446.8 132.52 L447.3 131.64 L447.8 132.66 L448.3 132.52 L448.8 131.96 L449.3 131.09 L449.8 131.74 L450.3 132.23 L450.8 132.02 L451.3 132.15 L451.8 132.30 L452.3 132.17 L452.8 132.99 L453.3 132.67 L453.8 132.85 L454.3 132.49 L454.8 131.28 L455.3 131.99 L455.8 132.29 L456.3 131.72 L456.8 132.47 L457.3 132.35 L457.8 131.36 L458.3 132.43 L458.8 132.45 L459.3 132.23 L459.8 131.87 L460.3 132.53 L460.8 131.08 L461.3 131.65 L461.8 132.61 L462.3 132.83 L462.8 132.47 L463.3 132.96 L463.8 132.15 L464.3 131.76 L464.8 132.96 L465.3 132.92 L465.8 132.37 L466.3 132.63 L466.8 132.37 L467.3 132.17 L467.8 132.39 L468.3 132.79 L468.8 131.74 L469.3 131.87 L469.8 132.11 L470.3 131.89 L470.8 132.08 L471.3 131.57 L471.8 131.91 L472.3 132.38 L472.8 132.10 L473.3 132.11 L473.8 132.41 L474.3 132.92 L474.8 132.09 L475.3 131.92 L475.8 132.46 L476.3 132.49 L476.8 131.76 L477.3 131.74 L477.8 131.95 L478.3 132.17 L478.8 132.26 L479.3 132.69 L479.8 133.13 L480.3 132.98" fill="none" stroke="#000" stroke-width="1.35" stroke-linejoin="round"/>
<path d="M359.3 135.32 L359.8 135.55 L360.3 135.67 L360.8 135.58 L361.3 136.06 L361.8 136.20 L362.3 136.50 L362.8 136.61 L363.3 137.52 L363.8 136.60 L364.3 136.64 L364.8 137.63 L365.3 137.97 L365.8 137.86 L366.3 137.60 L366.8 138.69 L367.3 137.84 L367.8 137.61 L368.3 138.08 L368.8 137.22 L369.3 137.33 L369.8 137.32 L370.3 136.77 L370.8 137.69 L371.3 138.30 L371.8 138.00 L372.3 137.40 L372.8 137.35 L373.3 136.91 L373.8 137.26 L374.3 137.61 L374.8 136.91 L375.3 137.80 L375.8 136.84 L376.3 136.95 L376.8 137.30 L377.3 137.80 L377.8 137.44 L378.3 136.81 L378.8 136.70 L379.3 137.43 L379.8 137.72 L380.3 137.73 L380.8 136.83 L381.3 137.58 L381.8 137.87 L382.3 137.09 L382.8 136.93 L383.3 137.74 L383.8 137.19 L384.3 137.82 L384.8 138.38 L385.3 137.47 L385.8 137.80 L386.3 137.94 L386.8 138.07 L387.3 137.98 L387.8 137.98 L388.3 137.62 L388.8 137.78 L389.3 138.11 L389.8 138.45 L390.3 138.16 L390.8 138.54 L391.3 138.25 L391.8 137.82 L392.3 138.04 L392.8 138.28 L393.3 137.15 L393.8 137.77 L394.3 137.02 L394.8 138.09 L395.3 138.55 L395.8 138.26 L396.3 138.43 L396.8 138.20 L397.3 138.40 L397.8 137.89 L398.3 139.35 L398.8 138.80 L399.3 138.75 L399.8 138.14 L400.3 138.36 L400.8 138.55 L401.3 138.18 L401.8 137.78 L402.3 138.56 L402.8 137.73 L403.3 138.19 L403.8 138.24 L404.3 137.35 L404.8 138.30 L405.3 138.21 L405.8 137.81 L406.3 138.44 L406.8 137.62 L407.3 138.52 L407.8 138.25 L408.3 137.88 L408.8 138.52 L409.3 138.05 L409.8 137.72 L410.3 138.08 L410.8 138.02 L411.3 137.32 L411.8 137.75 L412.3 137.81 L412.8 138.72 L413.3 138.56 L413.8 137.71 L414.3 138.02 L414.8 137.99 L415.3 138.59 L415.8 138.56 L416.3 138.12 L416.8 137.97 L417.3 137.30 L417.8 136.90 L418.3 137.31 L418.8 138.90 L419.3 138.09 L419.8 137.57 L420.3 138.16 L420.8 138.76 L421.3 138.00 L421.8 138.07 L422.3 138.63 L422.8 138.09 L423.3 137.84 L423.8 137.70 L424.3 138.35 L424.8 137.95 L425.3 138.17 L425.8 138.48 L426.3 137.76 L426.8 137.52 L427.3 138.19 L427.8 138.10 L428.3 137.86 L428.8 137.75 L429.3 138.69 L429.8 138.62 L430.3 138.30 L430.8 138.38 L431.3 138.33 L431.8 138.17 L432.3 137.66 L432.8 138.02 L433.3 138.69 L433.8 139.42 L434.3 138.53 L434.8 138.21 L435.3 137.80 L435.8 138.57 L436.3 137.51 L436.8 137.67 L437.3 137.53 L437.8 137.78 L438.3 138.31 L438.8 138.14 L439.3 137.69 L439.8 138.12 L440.3 138.66 L440.8 138.14 L441.3 137.28 L441.8 137.96 L442.3 138.77 L442.8 138.24 L443.3 138.47 L443.8 138.30 L444.3 138.35 L444.8 138.32 L445.3 139.34 L445.8 138.69 L446.3 137.58 L446.8 138.41 L447.3 138.08 L447.8 138.29 L448.3 138.20 L448.8 137.96 L449.3 138.08 L449.8 137.77 L450.3 137.37 L450.8 137.82 L451.3 137.26 L451.8 137.56 L452.3 138.49 L452.8 138.78 L453.3 138.22 L453.8 138.33 L454.3 138.29 L454.8 138.09 L455.3 137.57 L455.8 137.57 L456.3 138.60 L456.8 137.74 L457.3 137.68 L457.8 138.25 L458.3 137.73 L458.8 137.90 L459.3 137.56 L459.8 138.44 L460.3 138.24 L460.8 139.18 L461.3 138.72 L461.8 137.62 L462.3 137.51 L462.8 136.23 L463.3 136.96 L463.8 137.77 L464.3 137.44 L464.8 137.18 L465.3 137.40 L465.8 137.97 L466.3 138.70 L466.8 138.09 L467.3 137.83 L467.8 137.76 L468.3 137.34 L468.8 138.18 L469.3 138.28 L469.8 137.70 L470.3 138.56 L470.8 138.54 L471.3 138.51 L471.8 137.67 L472.3 137.89 L472.8 137.64 L473.3 137.90 L473.8 138.23 L474.3 138.84 L474.8 138.88 L475.3 138.63 L475.8 137.73 L476.3 137.57 L476.8 137.96 L477.3 138.28 L477.8 138.05 L478.3 138.21 L478.8 138.45 L479.3 138.81 L479.8 138.25 L480.3 138.05" fill="none" stroke="#000" stroke-width="1.4" stroke-linejoin="round"/>
<path d="M359.3 141.33 L359.8 142.25 L360.3 141.37 L360.8 141.88 L361.3 143.04 L361.8 142.01 L362.3 142.96 L362.8 144.13 L363.3 143.37 L363.8 142.99 L364.3 142.74 L364.8 144.34 L365.3 143.14 L365.8 144.17 L366.3 143.49 L366.8 144.30 L367.3 144.41 L367.8 144.74 L368.3 143.83 L368.8 144.11 L369.3 143.35 L369.8 144.26 L370.3 144.85 L370.8 144.13 L371.3 144.88 L371.8 144.92 L372.3 145.23 L372.8 145.64 L373.3 144.82 L373.8 145.48 L374.3 144.78 L374.8 144.18 L375.3 145.01 L375.8 144.47 L376.3 143.45 L376.8 144.65 L377.3 144.98 L377.8 145.47 L378.3 145.30 L378.8 144.97 L379.3 143.66 L379.8 144.64 L380.3 145.39 L380.8 144.28 L381.3 145.21 L381.8 145.45 L382.3 144.92 L382.8 145.08 L383.3 144.86 L383.8 143.85 L384.3 144.01 L384.8 144.84 L385.3 144.52 L385.8 145.15 L386.3 145.56 L386.8 145.20 L387.3 144.69 L387.8 144.22 L388.3 144.19 L388.8 146.13 L389.3 145.16 L389.8 145.58 L390.3 146.08 L390.8 145.61 L391.3 145.08 L391.8 144.29 L392.3 144.60 L392.8 145.08 L393.3 145.30 L393.8 145.77 L394.3 144.69 L394.8 145.05 L395.3 144.63 L395.8 144.92 L396.3 145.42 L396.8 144.60 L397.3 145.36 L397.8 145.52 L398.3 145.68 L398.8 145.66 L399.3 144.88 L399.8 145.13 L400.3 145.87 L400.8 145.16 L401.3 144.67 L401.8 145.61 L402.3 145.08 L402.8 144.91 L403.3 144.38 L403.8 144.91 L404.3 144.92 L404.8 145.55 L405.3 144.76 L405.8 144.41 L406.3 145.24 L406.8 144.87 L407.3 144.24 L407.8 145.65 L408.3 145.29 L408.8 145.18 L409.3 145.33 L409.8 145.21 L410.3 145.23 L410.8 145.42 L411.3 144.54 L411.8 144.88 L412.3 144.22 L412.8 144.46 L413.3 144.66 L413.8 145.06 L414.3 145.40 L414.8 144.82 L415.3 145.03 L415.8 144.92 L416.3 144.73 L416.8 144.26 L417.3 145.43 L417.8 144.48 L418.3 145.43 L418.8 145.36 L419.3 146.81 L419.8 144.74 L420.3 145.18 L420.8 144.29 L421.3 145.51 L421.8 144.51 L422.3 144.51 L422.8 145.06 L423.3 145.14 L423.8 144.94 L424.3 144.60 L424.8 144.83 L425.3 145.11 L425.8 145.20 L426.3 144.81 L426.8 145.94 L427.3 145.21 L427.8 145.34 L428.3 144.30 L428.8 144.54 L429.3 144.99 L429.8 143.62 L430.3 144.72 L430.8 144.60 L431.3 144.46 L431.8 145.16 L432.3 145.57 L432.8 144.51 L433.3 144.21 L433.8 145.25 L434.3 145.08 L434.8 144.74 L435.3 144.96 L435.8 144.74 L436.3 144.88 L436.8 144.76 L437.3 145.03 L437.8 144.48 L438.3 145.17 L438.8 144.30 L439.3 145.92 L439.8 145.39 L440.3 145.50 L440.8 145.91 L441.3 145.48 L441.8 144.38 L442.3 144.76 L442.8 144.83 L443.3 144.73 L443.8 144.96 L444.3 144.59 L444.8 144.16 L445.3 144.26 L445.8 144.63 L446.3 144.90 L446.8 144.30 L447.3 145.40 L447.8 144.85 L448.3 144.39 L448.8 143.93 L449.3 144.45 L449.8 144.16 L450.3 144.85 L450.8 143.82 L451.3 143.64 L451.8 144.58 L452.3 144.44 L452.8 145.21 L453.3 144.58 L453.8 144.47 L454.3 143.85 L454.8 143.85 L455.3 146.65 L455.8 144.75 L456.3 144.03 L456.8 144.83 L457.3 145.81 L457.8 145.73 L458.3 145.62 L458.8 145.17 L459.3 143.88 L459.8 144.93 L460.3 145.88 L460.8 144.47 L461.3 145.85 L461.8 144.90 L462.3 145.06 L462.8 144.92 L463.3 144.11 L463.8 144.79 L464.3 145.52 L464.8 144.29 L465.3 144.84 L465.8 144.37 L466.3 144.96 L466.8 145.37 L467.3 144.98 L467.8 144.42 L468.3 145.50 L468.8 145.40 L469.3 144.37 L469.8 144.46 L470.3 144.45 L470.8 144.94 L471.3 145.63 L471.8 145.05 L472.3 144.31 L472.8 144.52 L473.3 145.16 L473.8 144.96 L474.3 144.24 L474.8 145.86 L475.3 146.48 L475.8 145.63 L476.3 144.66 L476.8 144.64 L477.3 144.84 L477.8 143.93 L478.3 144.83 L478.8 144.91 L479.3 145.34 L479.8 144.79 L480.3 145.41" fill="none" stroke="#000" stroke-width="1.5" stroke-linejoin="round"/>
<path d="M359.3 148.15 L359.8 148.52 L360.3 149.41 L360.8 149.49 L361.3 148.28 L361.8 149.77 L362.3 151.21 L362.8 150.28 L363.3 150.42 L363.8 150.30 L364.3 151.30 L364.8 151.23 L365.3 150.95 L365.8 151.66 L366.3 152.82 L366.8 151.07 L367.3 152.38 L367.8 151.43 L368.3 151.81 L368.8 152.12 L369.3 151.70 L369.8 151.68 L370.3 153.16 L370.8 152.35 L371.3 151.83 L371.8 152.48 L372.3 152.28 L372.8 151.90 L373.3 151.78 L373.8 151.16 L374.3 151.47 L374.8 150.93 L375.3 152.14 L375.8 151.23 L376.3 151.94 L376.8 153.93 L377.3 152.74 L377.8 152.75 L378.3 153.16 L378.8 151.73 L379.3 151.73 L379.8 152.22 L380.3 152.54 L380.8 152.94 L381.3 152.99 L381.8 151.09 L382.3 151.08 L382.8 152.47 L383.3 151.37 L383.8 152.02 L384.3 152.62 L384.8 152.59 L385.3 152.26 L385.8 153.33 L386.3 152.17 L386.8 152.90 L387.3 153.10 L387.8 152.28 L388.3 152.69 L388.8 151.76 L389.3 152.41 L389.8 151.73 L390.3 150.58 L390.8 151.82 L391.3 152.03 L391.8 152.18 L392.3 152.18 L392.8 151.65 L393.3 152.52 L393.8 151.59 L394.3 152.49 L394.8 151.34 L395.3 151.17 L395.8 151.56 L396.3 151.75 L396.8 151.18 L397.3 152.18 L397.8 152.19 L398.3 151.27 L398.8 152.34 L399.3 151.66 L399.8 152.23 L400.3 151.40 L400.8 151.58 L401.3 151.84 L401.8 151.73 L402.3 151.59 L402.8 152.33 L403.3 151.25 L403.8 151.55 L404.3 152.26 L404.8 152.04 L405.3 151.65 L405.8 150.95 L406.3 151.59 L406.8 151.58 L407.3 152.14 L407.8 151.90 L408.3 151.62 L408.8 151.23 L409.3 151.66 L409.8 151.90 L410.3 152.32 L410.8 152.15 L411.3 151.94 L411.8 152.16 L412.3 153.00 L412.8 151.71 L413.3 153.03 L413.8 152.59 L414.3 151.87 L414.8 151.59 L415.3 151.90 L415.8 152.25 L416.3 152.31 L416.8 151.93 L417.3 152.06 L417.8 152.50 L418.3 152.43 L418.8 152.61 L419.3 152.35 L419.8 152.45 L420.3 153.48 L420.8 151.70 L421.3 152.23 L421.8 152.78 L422.3 151.84 L422.8 151.54 L423.3 152.14 L423.8 152.19 L424.3 152.22 L424.8 152.23 L425.3 152.81 L425.8 152.76 L426.3 153.26 L426.8 152.50 L427.3 152.83 L427.8 152.25 L428.3 152.31 L428.8 152.18 L429.3 151.88 L429.8 152.65 L430.3 152.06 L430.8 152.71 L431.3 153.49 L431.8 152.97 L432.3 152.65 L432.8 151.71 L433.3 152.09 L433.8 151.87 L434.3 151.40 L434.8 151.76 L435.3 152.28 L435.8 152.47 L436.3 152.64 L436.8 152.67 L437.3 152.73 L437.8 151.98 L438.3 151.95 L438.8 152.72 L439.3 153.10 L439.8 153.09 L440.3 151.96 L440.8 151.53 L441.3 151.47 L441.8 153.06 L442.3 152.39 L442.8 152.79 L443.3 153.10 L443.8 152.77 L444.3 152.89 L444.8 152.51 L445.3 152.42 L445.8 151.99 L446.3 152.66 L446.8 152.48 L447.3 153.32 L447.8 152.98 L448.3 153.09 L448.8 153.06 L449.3 153.29 L449.8 153.92 L450.3 153.72 L450.8 153.72 L451.3 152.68 L451.8 152.13 L452.3 152.21 L452.8 152.69 L453.3 152.38 L453.8 152.34 L454.3 152.78 L454.8 152.65 L455.3 153.13 L455.8 152.43 L456.3 152.99 L456.8 151.87 L457.3 152.68 L457.8 152.82 L458.3 153.55 L458.8 153.62 L459.3 152.62 L459.8 153.84 L460.3 152.93 L460.8 152.07 L461.3 152.88 L461.8 152.97 L462.3 154.29 L462.8 153.93 L463.3 153.22 L463.8 152.27 L464.3 153.95 L464.8 153.52 L465.3 152.91 L465.8 152.48 L466.3 153.14 L466.8 153.14 L467.3 152.61 L467.8 153.74 L468.3 152.02 L468.8 153.56 L469.3 153.44 L469.8 154.36 L470.3 152.95 L470.8 152.47 L471.3 154.14 L471.8 153.17 L472.3 153.55 L472.8 154.28 L473.3 154.00 L473.8 153.64 L474.3 153.65 L474.8 153.49 L475.3 153.96 L475.8 152.80 L476.3 152.95 L476.8 152.82 L477.3 153.90 L477.8 152.97 L478.3 153.05 L478.8 152.67 L479.3 153.22 L479.8 154.15 L480.3 152.92" fill="none" stroke="#000" stroke-width="1.6" stroke-linejoin="round"/>
<path d="M359.3 155.78 L359.8 157.47 L360.3 156.73 L360.8 158.59 L361.3 158.55 L361.8 158.41 L362.3 157.85 L362.8 159.77 L363.3 159.52 L363.8 159.56 L364.3 159.62 L364.8 160.26 L365.3 160.30 L365.8 161.04 L366.3 160.20 L366.8 162.09 L367.3 160.25 L367.8 160.41 L368.3 160.46 L368.8 160.42 L369.3 160.47 L369.8 160.08 L370.3 160.58 L370.8 160.81 L371.3 160.03 L371.8 160.77 L372.3 160.86 L372.8 161.69 L373.3 161.60 L373.8 161.21 L374.3 160.53 L374.8 161.46 L375.3 161.87 L375.8 161.96 L376.3 162.19 L376.8 161.37 L377.3 161.13 L377.8 161.76 L378.3 161.12 L378.8 161.94 L379.3 161.07 L379.8 161.90 L380.3 160.77 L380.8 160.53 L381.3 161.30 L381.8 160.94 L382.3 161.91 L382.8 161.54 L383.3 160.94 L383.8 161.23 L384.3 160.43 L384.8 160.94 L385.3 160.58 L385.8 160.66 L386.3 160.70 L386.8 161.06 L387.3 161.43 L387.8 161.65 L388.3 162.03 L388.8 162.36 L389.3 162.53 L389.8 162.52 L390.3 161.43 L390.8 160.26 L391.3 160.05 L391.8 160.78 L392.3 160.49 L392.8 161.06 L393.3 160.46 L393.8 160.97 L394.3 161.08 L394.8 160.02 L395.3 161.95 L395.8 159.95 L396.3 160.45 L396.8 161.44 L397.3 160.68 L397.8 160.90 L398.3 160.95 L398.8 160.67 L399.3 160.67 L399.8 162.08 L400.3 161.78 L400.8 161.02 L401.3 161.92 L401.8 160.93 L402.3 161.61 L402.8 160.78 L403.3 161.39 L403.8 160.28 L404.3 159.69 L404.8 159.84 L405.3 161.20 L405.8 162.03 L406.3 161.64 L406.8 161.58 L407.3 160.47 L407.8 161.42 L408.3 162.12 L408.8 161.01 L409.3 160.45 L409.8 160.59 L410.3 161.20 L410.8 160.84 L411.3 162.26 L411.8 161.99 L412.3 161.53 L412.8 161.58 L413.3 161.09 L413.8 160.41 L414.3 160.68 L414.8 160.58 L415.3 160.49 L415.8 160.92 L416.3 160.76 L416.8 160.40 L417.3 161.56 L417.8 160.99 L418.3 161.24 L418.8 160.58 L419.3 162.02 L419.8 160.76 L420.3 161.70 L420.8 160.62 L421.3 160.90 L421.8 160.12 L422.3 160.26 L422.8 160.27 L423.3 160.77 L423.8 161.09 L424.3 161.84 L424.8 160.45 L425.3 161.49 L425.8 161.71 L426.3 160.41 L426.8 160.55 L427.3 160.62 L427.8 161.02 L428.3 160.89 L428.8 159.49 L429.3 161.91 L429.8 161.69 L430.3 160.40 L430.8 160.85 L431.3 160.82 L431.8 161.10 L432.3 161.00 L432.8 159.86 L433.3 160.54 L433.8 160.46 L434.3 161.01 L434.8 159.94 L435.3 160.93 L435.8 159.80 L436.3 160.62 L436.8 161.46 L437.3 159.79 L437.8 160.18 L438.3 160.13 L438.8 160.17 L439.3 160.89 L439.8 160.69 L440.3 161.64 L440.8 160.91 L441.3 160.97 L441.8 161.06 L442.3 160.82 L442.8 160.41 L443.3 160.57 L443.8 161.01 L444.3 161.43 L444.8 159.95 L445.3 160.48 L445.8 161.08 L446.3 161.78 L446.8 160.35 L447.3 160.71 L447.8 160.82 L448.3 160.70 L448.8 160.47 L449.3 160.38 L449.8 160.11 L450.3 161.48 L450.8 160.76 L451.3 161.51 L451.8 159.87 L452.3 160.78 L452.8 161.05 L453.3 159.38 L453.8 159.45 L454.3 161.03 L454.8 160.39 L455.3 160.43 L455.8 160.52 L456.3 160.79 L456.8 161.39 L457.3 160.78 L457.8 160.43 L458.3 159.79 L458.8 160.10 L459.3 160.50 L459.8 161.18 L460.3 162.26 L460.8 161.46 L461.3 162.04 L461.8 160.63 L462.3 160.93 L462.8 161.37 L463.3 160.02 L463.8 160.79 L464.3 160.77 L464.8 160.36 L465.3 160.26 L465.8 159.99 L466.3 160.85 L466.8 161.52 L467.3 161.27 L467.8 160.94 L468.3 161.13 L468.8 161.36 L469.3 161.38 L469.8 160.64 L470.3 160.50 L470.8 160.99 L471.3 161.21 L471.8 160.81 L472.3 160.27 L472.8 160.28 L473.3 159.83 L473.8 160.86 L474.3 160.91 L474.8 160.37 L475.3 159.56 L475.8 161.12 L476.3 161.80 L476.8 160.40 L477.3 160.26 L477.8 160.78 L478.3 161.53 L478.8 161.87 L479.3 161.15 L479.8 159.82 L480.3 161.04" fill="none" stroke="#000" stroke-width="1.7" stroke-linejoin="round"/>
<path d="M359.3 166.30 L359.8 167.31 L360.3 166.91 L360.8 167.02 L361.3 168.62 L361.8 168.08 L362.3 167.79 L362.8 168.40 L363.3 168.74 L363.8 168.78 L364.3 169.03 L364.8 170.28 L365.3 169.77 L365.8 170.36 L366.3 171.09 L366.8 170.53 L367.3 170.68 L367.8 171.24 L368.3 171.67 L368.8 171.46 L369.3 171.28 L369.8 170.06 L370.3 170.30 L370.8 170.18 L371.3 171.26 L371.8 171.67 L372.3 171.96 L372.8 171.54 L373.3 170.93 L373.8 172.19 L374.3 171.66 L374.8 171.63 L375.3 171.50 L375.8 169.59 L376.3 171.47 L376.8 171.31 L377.3 171.45 L377.8 171.91 L378.3 170.81 L378.8 170.40 L379.3 171.06 L379.8 171.08 L380.3 172.26 L380.8 170.66 L381.3 171.13 L381.8 171.43 L382.3 171.71 L382.8 170.98 L383.3 171.96 L383.8 171.89 L384.3 171.48 L384.8 171.51 L385.3 172.60 L385.8 172.31 L386.3 171.54 L386.8 172.15 L387.3 171.47 L387.8 170.20 L388.3 171.45 L388.8 171.56 L389.3 172.28 L389.8 171.38 L390.3 171.35 L390.8 171.48 L391.3 172.02 L391.8 171.29 L392.3 171.77 L392.8 172.48 L393.3 172.42 L393.8 171.81 L394.3 171.08 L394.8 171.80 L395.3 172.47 L395.8 172.07 L396.3 170.93 L396.8 171.07 L397.3 172.64 L397.8 172.39 L398.3 172.16 L398.8 172.79 L399.3 172.54 L399.8 171.66 L400.3 172.91 L400.8 171.67 L401.3 172.18 L401.8 173.05 L402.3 171.84 L402.8 172.46 L403.3 170.22 L403.8 172.66 L404.3 172.49 L404.8 171.54 L405.3 172.76 L405.8 172.77 L406.3 173.06 L406.8 172.49 L407.3 172.15 L407.8 171.90 L408.3 172.02 L408.8 172.21 L409.3 172.14 L409.8 172.11 L410.3 172.45 L410.8 173.28 L411.3 171.95 L411.8 172.71 L412.3 172.38 L412.8 172.42 L413.3 172.95 L413.8 172.78 L414.3 172.10 L414.8 172.42 L415.3 171.68 L415.8 171.75 L416.3 172.17 L416.8 172.50 L417.3 173.11 L417.8 171.59 L418.3 172.20 L418.8 172.59 L419.3 172.61 L419.8 172.13 L420.3 171.94 L420.8 171.58 L421.3 170.99 L421.8 171.23 L422.3 172.12 L422.8 171.22 L423.3 170.95 L423.8 171.77 L424.3 170.77 L424.8 171.62 L425.3 171.00 L425.8 171.35 L426.3 171.48 L426.8 173.95 L427.3 172.12 L427.8 172.48 L428.3 171.73 L428.8 172.85 L429.3 172.93 L429.8 173.13 L430.3 172.77 L430.8 171.95 L431.3 173.18 L431.8 173.41 L432.3 172.28 L432.8 171.95 L433.3 173.16 L433.8 173.19 L434.3 172.04 L434.8 172.45 L435.3 171.76 L435.8 172.08 L436.3 172.35 L436.8 172.05 L437.3 170.97 L437.8 172.85 L438.3 172.60 L438.8 173.02 L439.3 172.58 L439.8 171.98 L440.3 170.93 L440.8 171.77 L441.3 171.95 L441.8 172.70 L442.3 171.52 L442.8 171.68 L443.3 171.33 L443.8 170.77 L444.3 171.08 L444.8 171.20 L445.3 171.98 L445.8 172.64 L446.3 172.67 L446.8 172.24 L447.3 173.43 L447.8 171.83 L448.3 173.49 L448.8 172.89 L449.3 171.44 L449.8 172.84 L450.3 171.46 L450.8 172.78 L451.3 172.98 L451.8 173.46 L452.3 172.73 L452.8 172.46 L453.3 172.01 L453.8 172.96 L454.3 173.40 L454.8 172.79 L455.3 174.25 L455.8 172.74 L456.3 172.48 L456.8 173.04 L457.3 171.83 L457.8 172.06 L458.3 171.68 L458.8 172.13 L459.3 172.18 L459.8 170.80 L460.3 171.75 L460.8 171.04 L461.3 171.73 L461.8 171.68 L462.3 173.48 L462.8 171.65 L463.3 172.76 L463.8 171.92 L464.3 171.68 L464.8 171.86 L465.3 172.69 L465.8 173.05 L466.3 172.76 L466.8 172.13 L467.3 171.99 L467.8 172.51 L468.3 173.07 L468.8 172.03 L469.3 172.48 L469.8 173.48 L470.3 173.40 L470.8 173.06 L471.3 172.52 L471.8 172.97 L472.3 172.65 L472.8 172.99 L473.3 173.34 L473.8 173.88 L474.3 172.96 L474.8 172.49 L475.3 172.65 L475.8 172.38 L476.3 172.24 L476.8 172.71 L477.3 173.00 L477.8 173.80 L478.3 172.93 L478.8 172.70 L479.3 172.96 L479.8 172.40 L480.3 173.01" fill="none" stroke="#000" stroke-width="1.8" stroke-linejoin="round"/>
<path d="M359.3 176.22 L359.8 176.35 L360.3 176.64 L360.8 175.53 L361.3 175.76 L361.8 176.28 L362.3 177.43 L362.8 176.52 L363.3 178.39 L363.8 179.05 L364.3 179.71 L364.8 179.84 L365.3 178.20 L365.8 179.34 L366.3 179.06 L366.8 180.66 L367.3 180.70 L367.8 179.60 L368.3 179.81 L368.8 180.31 L369.3 180.72 L369.8 180.63 L370.3 180.63 L370.8 180.39 L371.3 181.22 L371.8 181.41 L372.3 180.65 L372.8 180.19 L373.3 180.97 L373.8 181.40 L374.3 181.10 L374.8 182.42 L375.3 180.94 L375.8 180.64 L376.3 180.32 L376.8 180.27 L377.3 180.59 L377.8 180.40 L378.3 182.14 L378.8 183.07 L379.3 180.51 L379.8 181.55 L380.3 180.85 L380.8 181.73 L381.3 182.89 L381.8 182.99 L382.3 181.37 L382.8 181.35 L383.3 181.99 L383.8 182.29 L384.3 181.51 L384.8 181.17 L385.3 182.92 L385.8 181.83 L386.3 183.12 L386.8 181.08 L387.3 182.52 L387.8 182.14 L388.3 182.17 L388.8 181.97 L389.3 182.25 L389.8 180.87 L390.3 180.86 L390.8 181.45 L391.3 181.65 L391.8 182.19 L392.3 182.91 L392.8 183.45 L393.3 182.33 L393.8 181.64 L394.3 181.90 L394.8 181.18 L395.3 181.79 L395.8 180.96 L396.3 181.43 L396.8 183.88 L397.3 181.32 L397.8 181.17 L398.3 181.86 L398.8 181.51 L399.3 181.74 L399.8 180.49 L400.3 179.98 L400.8 181.92 L401.3 183.74 L401.8 181.60 L402.3 181.21 L402.8 181.38 L403.3 182.07 L403.8 182.49 L404.3 181.32 L404.8 182.95 L405.3 181.05 L405.8 181.73 L406.3 182.55 L406.8 181.77 L407.3 182.51 L407.8 183.49 L408.3 180.92 L408.8 181.62 L409.3 181.53 L409.8 182.74 L410.3 182.42 L410.8 181.28 L411.3 181.41 L411.8 181.36 L412.3 181.64 L412.8 180.87 L413.3 181.50 L413.8 182.28 L414.3 182.25 L414.8 182.17 L415.3 180.28 L415.8 181.35 L416.3 179.52 L416.8 180.57 L417.3 181.75 L417.8 181.57 L418.3 182.75 L418.8 181.92 L419.3 183.92 L419.8 183.74 L420.3 180.91 L420.8 182.53 L421.3 183.19 L421.8 183.99 L422.3 182.67 L422.8 183.26 L423.3 181.61 L423.8 182.90 L424.3 183.22 L424.8 182.49 L425.3 182.08 L425.8 181.14 L426.3 180.37 L426.8 182.73 L427.3 182.21 L427.8 182.58 L428.3 181.68 L428.8 182.16 L429.3 182.81 L429.8 181.79 L430.3 181.94 L430.8 182.85 L431.3 183.62 L431.8 184.23 L432.3 183.29 L432.8 182.01 L433.3 183.65 L433.8 183.59 L434.3 183.05 L434.8 183.44 L435.3 182.75 L435.8 183.65 L436.3 182.32 L436.8 183.07 L437.3 181.95 L437.8 179.99 L438.3 181.84 L438.8 182.74 L439.3 182.75 L439.8 182.97 L440.3 183.69 L440.8 182.88 L441.3 181.77 L441.8 180.72 L442.3 181.97 L442.8 183.54 L443.3 183.94 L443.8 182.21 L444.3 181.23 L444.8 181.10 L445.3 181.68 L445.8 182.08 L446.3 181.35 L446.8 181.18 L447.3 181.31 L447.8 181.05 L448.3 181.55 L448.8 181.70 L449.3 183.15 L449.8 183.34 L450.3 182.03 L450.8 181.28 L451.3 182.48 L451.8 181.12 L452.3 181.10 L452.8 181.56 L453.3 181.48 L453.8 182.27 L454.3 182.73 L454.8 181.36 L455.3 183.85 L455.8 182.90 L456.3 181.51 L456.8 181.42 L457.3 183.40 L457.8 183.91 L458.3 183.30 L458.8 183.67 L459.3 181.95 L459.8 182.95 L460.3 182.10 L460.8 183.56 L461.3 182.63 L461.8 183.24 L462.3 183.55 L462.8 183.53 L463.3 182.43 L463.8 183.66 L464.3 182.85 L464.8 183.79 L465.3 183.47 L465.8 182.45 L466.3 183.41 L466.8 183.91 L467.3 183.26 L467.8 182.78 L468.3 183.42 L468.8 184.99 L469.3 182.25 L469.8 183.06 L470.3 183.46 L470.8 183.81 L471.3 182.84 L471.8 184.60 L472.3 183.74 L472.8 182.13 L473.3 182.19 L473.8 184.11 L474.3 181.64 L474.8 183.17 L475.3 182.34 L475.8 182.70 L476.3 183.23 L476.8 182.35 L477.3 182.92 L477.8 183.17 L478.3 182.29 L478.8 182.82 L479.3 183.32 L479.8 183.08 L480.3 183.84" fill="none" stroke="#606060" stroke-width="0.9" stroke-linejoin="round"/>
<path d="M359.3 182.87 L359.8 186.00 L360.3 188.43 L360.8 186.85 L361.3 187.24 L361.8 187.69 L362.3 187.50 L362.8 188.40 L363.3 188.43 L363.8 188.62 L364.3 190.68 L364.8 190.00 L365.3 189.49 L365.8 190.02 L366.3 189.06 L366.8 190.67 L367.3 190.28 L367.8 192.51 L368.3 190.38 L368.8 193.45 L369.3 192.45 L369.8 191.01 L370.3 191.46 L370.8 191.63 L371.3 191.71 L371.8 191.99 L372.3 193.01 L372.8 194.48 L373.3 193.44 L373.8 193.21 L374.3 191.90 L374.8 191.70 L375.3 191.73 L375.8 194.26 L376.3 192.35 L376.8 193.20 L377.3 193.23 L377.8 194.47 L378.3 193.23 L378.8 193.70 L379.3 193.19 L379.8 192.93 L380.3 193.07 L380.8 193.39 L381.3 194.16 L381.8 192.53 L382.3 192.20 L382.8 193.88 L383.3 193.16 L383.8 193.04 L384.3 193.99 L384.8 193.63 L385.3 194.32 L385.8 194.54 L386.3 194.20 L386.8 193.84 L387.3 193.75 L387.8 193.63 L388.3 193.17 L388.8 192.32 L389.3 192.47 L389.8 192.25 L390.3 192.61 L390.8 192.69 L391.3 191.57 L391.8 193.58 L392.3 192.65 L392.8 193.84 L393.3 193.80 L393.8 193.86 L394.3 193.19 L394.8 193.72 L395.3 192.15 L395.8 192.82 L396.3 193.89 L396.8 194.84 L397.3 193.35 L397.8 194.00 L398.3 194.79 L398.8 194.04 L399.3 193.46 L399.8 193.43 L400.3 192.98 L400.8 193.58 L401.3 192.29 L401.8 194.05 L402.3 193.81 L402.8 194.95 L403.3 193.93 L403.8 192.57 L404.3 193.86 L404.8 193.70 L405.3 193.13 L405.8 192.35 L406.3 193.11 L406.8 193.40 L407.3 193.30 L407.8 194.62 L408.3 193.03 L408.8 192.91 L409.3 194.64 L409.8 193.40 L410.3 193.78 L410.8 193.99 L411.3 194.43 L411.8 195.03 L412.3 193.04 L412.8 193.26 L413.3 193.78 L413.8 194.61 L414.3 193.18 L414.8 193.22 L415.3 193.40 L415.8 193.60 L416.3 193.01 L416.8 192.63 L417.3 193.93 L417.8 192.54 L418.3 192.32 L418.8 193.77 L419.3 191.89 L419.8 195.22 L420.3 192.44 L420.8 192.89 L421.3 193.34 L421.8 193.62 L422.3 192.35 L422.8 192.79 L423.3 192.65 L423.8 192.08 L424.3 192.36 L424.8 193.13 L425.3 193.27 L425.8 193.73 L426.3 192.65 L426.8 193.37 L427.3 193.04 L427.8 192.67 L428.3 193.57 L428.8 193.89 L429.3 193.06 L429.8 193.51 L430.3 194.23 L430.8 193.52 L431.3 194.26 L431.8 193.07 L432.3 192.77 L432.8 194.08 L433.3 193.14 L433.8 192.67 L434.3 193.43 L434.8 193.43 L435.3 194.13 L435.8 194.40 L436.3 193.23 L436.8 193.68 L437.3 193.18 L437.8 194.36 L438.3 194.21 L438.8 192.56 L439.3 192.91 L439.8 192.80 L440.3 193.92 L440.8 194.06 L441.3 193.55 L441.8 194.00 L442.3 194.10 L442.8 194.05 L443.3 194.23 L443.8 193.63 L444.3 193.74 L444.8 195.17 L445.3 193.35 L445.8 193.95 L446.3 193.39 L446.8 194.21 L447.3 194.74 L447.8 194.38 L448.3 193.69 L448.8 194.34 L449.3 193.90 L449.8 193.81 L450.3 195.06 L450.8 194.27 L451.3 193.49 L451.8 193.16 L452.3 193.15 L452.8 192.68 L453.3 193.48 L453.8 191.69 L454.3 193.92 L454.8 193.48 L455.3 192.40 L455.8 193.35 L456.3 194.03 L456.8 193.73 L457.3 193.93 L457.8 193.11 L458.3 193.56 L458.8 195.63 L459.3 194.92 L459.8 193.51 L460.3 194.46 L460.8 193.23 L461.3 194.24 L461.8 193.48 L462.3 193.16 L462.8 194.69 L463.3 194.44 L463.8 194.27 L464.3 195.05 L464.8 193.96 L465.3 195.07 L465.8 195.08 L466.3 194.37 L466.8 194.32 L467.3 194.46 L467.8 194.88 L468.3 193.02 L468.8 195.76 L469.3 195.62 L469.8 195.70 L470.3 194.30 L470.8 194.71 L471.3 195.68 L471.8 193.48 L472.3 193.30 L472.8 194.34 L473.3 194.57 L473.8 194.34 L474.3 194.47 L474.8 194.01 L475.3 194.27 L475.8 194.70 L476.3 194.03 L476.8 194.62 L477.3 194.72 L477.8 194.59 L478.3 193.42 L478.8 193.94 L479.3 194.97 L479.8 193.81 L480.3 194.01" fill="none" stroke="#000" stroke-width="2.0" stroke-linejoin="round"/>
<path d="M401.40000000000003 219.7 V214.8 H443.90000000000003 V219.7" fill="none" stroke="#000" stroke-width="1.5" stroke-linejoin="round"/>
<text x="405.5" y="227.6" font-size="10" text-anchor="start" stroke="#000" stroke-width="0.2" textLength="34.8" lengthAdjust="spacingAndGlyphs" >100 ms</text>
<text x="389.0" y="50.2" font-size="14.5" text-anchor="start" stroke="#000" stroke-width="0.25" textLength="71.2" lengthAdjust="spacingAndGlyphs" >t = 15 min</text>
<text x="149.1" y="274.8" font-size="26" text-anchor="start" stroke="#000" stroke-width="0" font-weight="bold" textLength="17.5" lengthAdjust="spacingAndGlyphs" >C</text>
<line x1="156.9" y1="328.65" x2="397.1" y2="328.65" stroke="#000" stroke-width="1.7" stroke-linecap="butt"/>
<line x1="157.65" y1="328.65" x2="157.65" y2="333.0" stroke="#000" stroke-width="1.5" stroke-linecap="butt"/>
<line x1="217.4" y1="328.65" x2="217.4" y2="333.0" stroke="#000" stroke-width="1.5" stroke-linecap="butt"/>
<line x1="336.3" y1="328.65" x2="336.3" y2="333.0" stroke="#000" stroke-width="1.5" stroke-linecap="butt"/>
<line x1="396.35" y1="328.65" x2="396.35" y2="333.0" stroke="#000" stroke-width="1.5" stroke-linecap="butt"/>
<line x1="277.0" y1="271.5" x2="277.0" y2="440.4" stroke="#000" stroke-width="1.7" stroke-linecap="butt"/>
<line x1="272.4" y1="272.2" x2="277.0" y2="272.2" stroke="#000" stroke-width="1.5" stroke-linecap="butt"/>
<line x1="272.4" y1="384.4" x2="277.0" y2="384.4" stroke="#000" stroke-width="1.5" stroke-linecap="butt"/>
<line x1="272.4" y1="439.6" x2="277.0" y2="439.6" stroke="#000" stroke-width="1.5" stroke-linecap="butt"/>
<text x="266.5" y="276.8" font-size="13" text-anchor="end" stroke="#000" stroke-width="0.25" >500</text>
<text x="268.8" y="443.4" font-size="13" text-anchor="end" stroke="#000" stroke-width="0.25" textLength="34.0" lengthAdjust="spacingAndGlyphs" >-1000</text>
<text x="140.9" y="348.3" font-size="13" text-anchor="start" stroke="#000" stroke-width="0.25" textLength="26.8" lengthAdjust="spacingAndGlyphs" >-100</text>
<text x="387.6" y="349.7" font-size="13" text-anchor="start" stroke="#000" stroke-width="0.25" >100</text>
<text x="282.9" y="277.3" font-size="15.5" text-anchor="start" stroke="#000" stroke-width="0.25" textLength="38.4" lengthAdjust="spacingAndGlyphs" >I (pA)</text>
<text x="374.4" y="367.4" font-size="16" text-anchor="start" stroke="#000" stroke-width="0.25" textLength="63.4" lengthAdjust="spacingAndGlyphs" >Vm (mV)</text>
<line x1="157.6" y1="394.6" x2="157.6" y2="419.7" stroke="#000" stroke-width="1.9" stroke-linecap="butt"/>
<line x1="154.29999999999998" y1="394.6" x2="160.9" y2="394.6" stroke="#000" stroke-width="1.8" stroke-linecap="butt"/>
<line x1="154.29999999999998" y1="417.4" x2="160.9" y2="417.4" stroke="#000" stroke-width="1.7" stroke-linecap="butt"/>
<line x1="154.29999999999998" y1="419.7" x2="160.9" y2="419.7" stroke="#000" stroke-width="1.7" stroke-linecap="butt"/>
<line x1="169.3" y1="385.2" x2="169.3" y2="406.4" stroke="#000" stroke-width="1.9" stroke-linecap="butt"/>
<line x1="166.0" y1="385.2" x2="172.60000000000002" y2="385.2" stroke="#000" stroke-width="1.8" stroke-linecap="butt"/>
<line x1="166.0" y1="404.0" x2="172.60000000000002" y2="404.0" stroke="#000" stroke-width="1.7" stroke-linecap="butt"/>
<line x1="166.0" y1="406.4" x2="172.60000000000002" y2="406.4" stroke="#000" stroke-width="1.7" stroke-linecap="butt"/>
<line x1="181.3" y1="376.8" x2="181.3" y2="395.4" stroke="#000" stroke-width="1.9" stroke-linecap="butt"/>
<line x1="178.0" y1="376.8" x2="184.60000000000002" y2="376.8" stroke="#000" stroke-width="1.8" stroke-linecap="butt"/>
<line x1="178.0" y1="393.8" x2="184.60000000000002" y2="393.8" stroke="#000" stroke-width="1.7" stroke-linecap="butt"/>
<line x1="178.0" y1="395.4" x2="184.60000000000002" y2="395.4" stroke="#000" stroke-width="1.7" stroke-linecap="butt"/>
<line x1="193.4" y1="369.7" x2="193.4" y2="384.4" stroke="#000" stroke-width="1.9" stroke-linecap="butt"/>
<line x1="190.1" y1="369.7" x2="196.70000000000002" y2="369.7" stroke="#000" stroke-width="1.8" stroke-linecap="butt"/>
<line x1="190.1" y1="384.4" x2="196.70000000000002" y2="384.4" stroke="#000" stroke-width="1.7" stroke-linecap="butt"/>
<line x1="205.2" y1="361.9" x2="205.2" y2="374.5" stroke="#000" stroke-width="1.9" stroke-linecap="butt"/>
<line x1="201.89999999999998" y1="361.9" x2="208.5" y2="361.9" stroke="#000" stroke-width="1.8" stroke-linecap="butt"/>
<line x1="201.89999999999998" y1="374.5" x2="208.5" y2="374.5" stroke="#000" stroke-width="1.7" stroke-linecap="butt"/>
<line x1="217.1" y1="355.3" x2="217.1" y2="366.3" stroke="#000" stroke-width="1.9" stroke-linecap="butt"/>
<line x1="213.79999999999998" y1="355.3" x2="220.4" y2="355.3" stroke="#000" stroke-width="1.8" stroke-linecap="butt"/>
<line x1="213.79999999999998" y1="366.3" x2="220.4" y2="366.3" stroke="#000" stroke-width="1.7" stroke-linecap="butt"/>
<path d="M157.6 407.0 L169.3 395.7 L181.3 386.1 L193.4 377.1 L205.2 368.0 L217.1 360.4 L229.1 352.9 L241.0 345.7 L253.2 338.7 L265.0 332.9 L276.8 327.3 L288.8 322.6 L300.7 318.8 L312.5 315.8 L324.6 313.4 L336.6 312.3 L348.7 311.4 L360.9 310.6 L372.7 310.4 L385.0 309.4 L396.5 309.8" fill="none" stroke="#000" stroke-width="2.4"/>
<circle cx="157.6" cy="407.6" r="4.9" fill="#000"/>
<circle cx="169.3" cy="396.3" r="4.9" fill="#000"/>
<circle cx="181.3" cy="386.7" r="4.9" fill="#000"/>
<circle cx="193.4" cy="377.9" r="4.9" fill="#000"/>
<circle cx="205.2" cy="368.8" r="4.9" fill="#000"/>
<circle cx="217.1" cy="361.3" r="4.9" fill="#000"/>
<circle cx="229.1" cy="353.8" r="4.9" fill="#000"/>
<circle cx="241.0" cy="346.6" r="4.9" fill="#000"/>
<circle cx="253.2" cy="339.6" r="4.9" fill="#000"/>
<circle cx="265.0" cy="333.8" r="4.9" fill="#000"/>
<circle cx="276.8" cy="328.2" r="4.9" fill="#000"/>
<circle cx="288.8" cy="323.5" r="4.9" fill="#000"/>
<circle cx="300.7" cy="319.7" r="4.9" fill="#000"/>
<circle cx="312.5" cy="316.7" r="4.9" fill="#000"/>
<circle cx="324.6" cy="314.3" r="4.9" fill="#000"/>
<circle cx="336.6" cy="313.2" r="4.9" fill="#000"/>
<circle cx="348.7" cy="312.3" r="4.9" fill="#000"/>
<circle cx="360.9" cy="311.5" r="4.9" fill="#000"/>
<circle cx="372.7" cy="311.3" r="4.9" fill="#000"/>
<circle cx="385.0" cy="311.6" r="4.9" fill="#000"/>
<circle cx="396.5" cy="311.7" r="4.9" fill="#000"/>
<rect x="153.7" y="403.1" width="7.8" height="7.8" rx="0.8" fill="#fff" stroke="#000" stroke-width="2.2"/>
<rect x="165.4" y="391.8" width="7.8" height="7.8" rx="0.8" fill="#fff" stroke="#000" stroke-width="2.2"/>
<rect x="177.4" y="382.2" width="7.8" height="7.8" rx="0.8" fill="#fff" stroke="#000" stroke-width="2.2"/>
<rect x="189.5" y="373.2" width="7.8" height="7.8" rx="0.8" fill="#fff" stroke="#000" stroke-width="2.2"/>
<rect x="201.3" y="364.1" width="7.8" height="7.8" rx="0.8" fill="#fff" stroke="#000" stroke-width="2.2"/>
<rect x="213.2" y="356.5" width="7.8" height="7.8" rx="0.8" fill="#fff" stroke="#000" stroke-width="2.2"/>
<rect x="225.2" y="349.0" width="7.8" height="7.8" rx="0.8" fill="#fff" stroke="#000" stroke-width="2.2"/>
<rect x="237.1" y="341.8" width="7.8" height="7.8" rx="0.8" fill="#fff" stroke="#000" stroke-width="2.2"/>
<rect x="249.3" y="334.8" width="7.8" height="7.8" rx="0.8" fill="#fff" stroke="#000" stroke-width="2.2"/>
<rect x="261.1" y="329.0" width="7.8" height="7.8" rx="0.8" fill="#fff" stroke="#000" stroke-width="2.2"/>
<rect x="272.9" y="323.4" width="7.8" height="7.8" rx="0.8" fill="#fff" stroke="#000" stroke-width="2.2"/>
<rect x="284.9" y="318.7" width="7.8" height="7.8" rx="0.8" fill="#fff" stroke="#000" stroke-width="2.2"/>
<rect x="296.8" y="314.9" width="7.8" height="7.8" rx="0.8" fill="#fff" stroke="#000" stroke-width="2.2"/>
<rect x="308.6" y="311.9" width="7.8" height="7.8" rx="0.8" fill="#fff" stroke="#000" stroke-width="2.2"/>
<rect x="320.7" y="309.5" width="7.8" height="7.8" rx="0.8" fill="#fff" stroke="#000" stroke-width="2.2"/>
<rect x="332.7" y="308.4" width="7.8" height="7.8" rx="0.8" fill="#fff" stroke="#000" stroke-width="2.2"/>
<rect x="344.8" y="307.5" width="7.8" height="7.8" rx="0.8" fill="#fff" stroke="#000" stroke-width="2.2"/>
<rect x="357.0" y="306.7" width="7.8" height="7.8" rx="0.8" fill="#fff" stroke="#000" stroke-width="2.2"/>
<rect x="368.8" y="306.5" width="7.8" height="7.8" rx="0.8" fill="#fff" stroke="#000" stroke-width="2.2"/>
<rect x="381.1" y="305.5" width="7.8" height="7.8" rx="0.8" fill="#fff" stroke="#000" stroke-width="2.2"/>
<rect x="392.6" y="305.9" width="7.8" height="7.8" rx="0.8" fill="#fff" stroke="#000" stroke-width="2.2"/>
</svg>
</body></html>
